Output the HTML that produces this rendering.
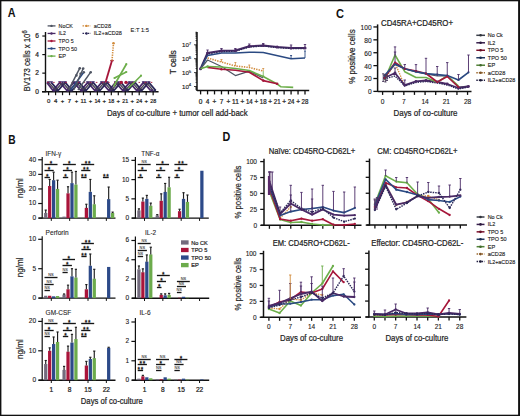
<!DOCTYPE html>
<html><head><meta charset="utf-8"><title>figure</title>
<style>
html,body{margin:0;padding:0;background:#fff;}
body{width:520px;height:416px;overflow:hidden;font-family:"Liberation Sans", sans-serif;}
svg{display:block;}
</style></head><body>
<svg width="520" height="416" viewBox="0 0 520 416" font-family='"Liberation Sans", sans-serif'>
<rect x="0.00" y="0.00" width="520.00" height="416.00" fill="#ffffff"/>
<rect x="0.00" y="0.00" width="520.00" height="1.30" fill="#111"/>
<rect x="0.00" y="0.00" width="1.40" height="416.00" fill="#111"/>
<rect x="518.10" y="0.00" width="1.90" height="416.00" fill="#111"/>
<rect x="0.00" y="414.70" width="520.00" height="1.30" fill="#111"/>
<text x="7.70" y="16.81" font-size="12.20" text-anchor="start" fill="#111" font-weight="bold" textLength="7.80" lengthAdjust="spacingAndGlyphs">A</text>
<text x="335.90" y="17.81" font-size="12.20" text-anchor="start" fill="#111" font-weight="bold" textLength="8.00" lengthAdjust="spacingAndGlyphs">C</text>
<text x="8.20" y="144.11" font-size="12.20" text-anchor="start" fill="#111" font-weight="bold" textLength="7.40" lengthAdjust="spacingAndGlyphs">B</text>
<text x="222.40" y="141.31" font-size="12.20" text-anchor="start" fill="#111" font-weight="bold" textLength="7.80" lengthAdjust="spacingAndGlyphs">D</text>
<line x1="45.50" y1="32.00" x2="45.50" y2="92.20" stroke="#111" stroke-width="1.40" stroke-linecap="butt"/>
<line x1="42.00" y1="91.70" x2="158.60" y2="91.70" stroke="#111" stroke-width="1.40" stroke-linecap="butt"/>
<line x1="42.30" y1="91.70" x2="45.50" y2="91.70" stroke="#111" stroke-width="1.20" stroke-linecap="butt"/>
<text x="37.20" y="93.98" font-size="6.60" text-anchor="middle" fill="#222" font-weight="normal" stroke="#222" stroke-width="0.22">0</text>
<line x1="42.30" y1="73.14" x2="45.50" y2="73.14" stroke="#111" stroke-width="1.20" stroke-linecap="butt"/>
<text x="37.20" y="75.42" font-size="6.60" text-anchor="middle" fill="#222" font-weight="normal" stroke="#222" stroke-width="0.22">2</text>
<line x1="42.30" y1="54.58" x2="45.50" y2="54.58" stroke="#111" stroke-width="1.20" stroke-linecap="butt"/>
<text x="37.20" y="56.86" font-size="6.60" text-anchor="middle" fill="#222" font-weight="normal" stroke="#222" stroke-width="0.22">4</text>
<line x1="42.30" y1="36.02" x2="45.50" y2="36.02" stroke="#111" stroke-width="1.20" stroke-linecap="butt"/>
<text x="37.20" y="38.30" font-size="6.60" text-anchor="middle" fill="#222" font-weight="normal" stroke="#222" stroke-width="0.22">6</text>
<line x1="48.60" y1="91.70" x2="48.60" y2="95.20" stroke="#111" stroke-width="1.20" stroke-linecap="butt"/>
<text x="48.60" y="103.37" font-size="6.00" text-anchor="middle" fill="#222" font-weight="normal" stroke="#222" stroke-width="0.22">0</text>
<line x1="55.57" y1="91.70" x2="55.57" y2="95.20" stroke="#111" stroke-width="1.20" stroke-linecap="butt"/>
<text x="55.57" y="103.37" font-size="6.00" text-anchor="middle" fill="#222" font-weight="normal" stroke="#222" stroke-width="0.22">4</text>
<line x1="62.54" y1="91.70" x2="62.54" y2="95.20" stroke="#111" stroke-width="1.20" stroke-linecap="butt"/>
<text x="62.54" y="103.37" font-size="6.00" text-anchor="middle" fill="#222" font-weight="normal" stroke="#222" stroke-width="0.22">+</text>
<line x1="69.51" y1="91.70" x2="69.51" y2="95.20" stroke="#111" stroke-width="1.20" stroke-linecap="butt"/>
<text x="69.51" y="103.37" font-size="6.00" text-anchor="middle" fill="#222" font-weight="normal" stroke="#222" stroke-width="0.22">7</text>
<line x1="76.48" y1="91.70" x2="76.48" y2="95.20" stroke="#111" stroke-width="1.20" stroke-linecap="butt"/>
<text x="76.48" y="103.37" font-size="6.00" text-anchor="middle" fill="#222" font-weight="normal" stroke="#222" stroke-width="0.22">+</text>
<line x1="83.45" y1="91.70" x2="83.45" y2="95.20" stroke="#111" stroke-width="1.20" stroke-linecap="butt"/>
<text x="83.45" y="103.37" font-size="6.00" text-anchor="middle" fill="#222" font-weight="normal" textLength="6.00" lengthAdjust="spacingAndGlyphs" stroke="#222" stroke-width="0.22">11</text>
<line x1="90.42" y1="91.70" x2="90.42" y2="95.20" stroke="#111" stroke-width="1.20" stroke-linecap="butt"/>
<text x="90.42" y="103.37" font-size="6.00" text-anchor="middle" fill="#222" font-weight="normal" stroke="#222" stroke-width="0.22">+</text>
<line x1="97.39" y1="91.70" x2="97.39" y2="95.20" stroke="#111" stroke-width="1.20" stroke-linecap="butt"/>
<text x="97.39" y="103.37" font-size="6.00" text-anchor="middle" fill="#222" font-weight="normal" textLength="6.00" lengthAdjust="spacingAndGlyphs" stroke="#222" stroke-width="0.22">14</text>
<line x1="104.36" y1="91.70" x2="104.36" y2="95.20" stroke="#111" stroke-width="1.20" stroke-linecap="butt"/>
<text x="104.36" y="103.37" font-size="6.00" text-anchor="middle" fill="#222" font-weight="normal" stroke="#222" stroke-width="0.22">+</text>
<line x1="111.33" y1="91.70" x2="111.33" y2="95.20" stroke="#111" stroke-width="1.20" stroke-linecap="butt"/>
<text x="111.33" y="103.37" font-size="6.00" text-anchor="middle" fill="#222" font-weight="normal" textLength="6.00" lengthAdjust="spacingAndGlyphs" stroke="#222" stroke-width="0.22">18</text>
<line x1="118.30" y1="91.70" x2="118.30" y2="95.20" stroke="#111" stroke-width="1.20" stroke-linecap="butt"/>
<text x="118.30" y="103.37" font-size="6.00" text-anchor="middle" fill="#222" font-weight="normal" stroke="#222" stroke-width="0.22">+</text>
<line x1="125.27" y1="91.70" x2="125.27" y2="95.20" stroke="#111" stroke-width="1.20" stroke-linecap="butt"/>
<text x="125.27" y="103.37" font-size="6.00" text-anchor="middle" fill="#222" font-weight="normal" textLength="6.00" lengthAdjust="spacingAndGlyphs" stroke="#222" stroke-width="0.22">21</text>
<line x1="132.24" y1="91.70" x2="132.24" y2="95.20" stroke="#111" stroke-width="1.20" stroke-linecap="butt"/>
<text x="132.24" y="103.37" font-size="6.00" text-anchor="middle" fill="#222" font-weight="normal" stroke="#222" stroke-width="0.22">+</text>
<line x1="139.21" y1="91.70" x2="139.21" y2="95.20" stroke="#111" stroke-width="1.20" stroke-linecap="butt"/>
<text x="139.21" y="103.37" font-size="6.00" text-anchor="middle" fill="#222" font-weight="normal" textLength="6.00" lengthAdjust="spacingAndGlyphs" stroke="#222" stroke-width="0.22">24</text>
<line x1="146.18" y1="91.70" x2="146.18" y2="95.20" stroke="#111" stroke-width="1.20" stroke-linecap="butt"/>
<text x="146.18" y="103.37" font-size="6.00" text-anchor="middle" fill="#222" font-weight="normal" stroke="#222" stroke-width="0.22">+</text>
<line x1="153.15" y1="91.70" x2="153.15" y2="95.20" stroke="#111" stroke-width="1.20" stroke-linecap="butt"/>
<text x="153.15" y="103.37" font-size="6.00" text-anchor="middle" fill="#222" font-weight="normal" textLength="6.00" lengthAdjust="spacingAndGlyphs" stroke="#222" stroke-width="0.22">28</text>
<text x="106.90" y="115.88" font-size="9.50" text-anchor="start" fill="#222" font-weight="normal" textLength="140.80" lengthAdjust="spacingAndGlyphs" stroke="#222" stroke-width="0.22">Days of co-culture + tumor cell add-back</text>
<text x="0" y="0" font-size="8.8" fill="#222" stroke="#222" stroke-width="0.2" text-anchor="middle" transform="translate(30.2 61.0) rotate(-90)" textLength="61.2" lengthAdjust="spacingAndGlyphs">BV173 cells x 10<tspan font-size="6.4" dy="-3.0">6</tspan></text>
<polyline points="46.90,82.42 52.97,90.50 59.94,82.42 66.91,90.50 73.88,82.42 80.85,90.50 87.82,82.42 94.79,90.50 101.76,82.42 108.73,90.50 115.70,82.42 122.67,90.50 129.64,82.42 136.61,90.50 143.58,82.42 150.55,90.50" fill="none" stroke="#4a2a6a" stroke-width="1.83" stroke-linejoin="round"/>
<polyline points="51.20,82.42 58.17,90.50 65.14,82.42 72.11,90.50 79.08,82.42 86.05,90.50 93.02,82.42 99.99,90.50 106.96,82.42 113.93,90.50 120.90,82.42 127.87,90.50 134.84,82.42 141.81,90.50 148.78,82.42 155.75,90.50" fill="none" stroke="#2c2858" stroke-width="1.83" stroke-linejoin="round"/>
<polyline points="48.60,82.42 55.57,90.50 62.54,82.42 69.51,90.50 76.48,82.42 83.45,90.50 90.42,82.42 97.39,90.50 104.36,82.42 111.33,90.50 118.30,82.42 125.27,90.50 132.24,82.42 139.21,90.50 146.18,82.42 153.15,90.50" fill="none" stroke="#4a4652" stroke-width="1.34" stroke-linejoin="round"/>
<path d="M46.90 81.22 L50.30 81.22 L48.60 84.02 Z" fill="#43296a"/>
<path d="M49.70 81.22 L53.10 81.22 L51.40 84.02 Z" fill="#43296a"/>
<circle cx="54.07" cy="90.50" r="1.30" fill="#43296a"/>
<circle cx="57.07" cy="90.50" r="1.30" fill="#2c2858"/>
<path d="M58.04 81.22 L61.44 81.22 L59.74 84.02 Z" fill="#43296a"/>
<path d="M60.84 81.22 L64.24 81.22 L62.54 84.02 Z" fill="#43296a"/>
<path d="M63.64 81.22 L67.04 81.22 L65.34 84.02 Z" fill="#43296a"/>
<circle cx="68.01" cy="90.50" r="1.30" fill="#43296a"/>
<circle cx="71.01" cy="90.50" r="1.30" fill="#2c2858"/>
<path d="M71.98 81.22 L75.38 81.22 L73.68 84.02 Z" fill="#43296a"/>
<path d="M74.78 81.22 L78.18 81.22 L76.48 84.02 Z" fill="#43296a"/>
<path d="M77.58 81.22 L80.98 81.22 L79.28 84.02 Z" fill="#43296a"/>
<circle cx="81.95" cy="90.50" r="1.30" fill="#43296a"/>
<circle cx="84.95" cy="90.50" r="1.30" fill="#2c2858"/>
<path d="M85.92 81.22 L89.32 81.22 L87.62 84.02 Z" fill="#43296a"/>
<path d="M88.72 81.22 L92.12 81.22 L90.42 84.02 Z" fill="#43296a"/>
<path d="M91.52 81.22 L94.92 81.22 L93.22 84.02 Z" fill="#43296a"/>
<circle cx="95.89" cy="90.50" r="1.30" fill="#43296a"/>
<circle cx="98.89" cy="90.50" r="1.30" fill="#2c2858"/>
<path d="M99.86 81.22 L103.26 81.22 L101.56 84.02 Z" fill="#43296a"/>
<path d="M102.66 81.22 L106.06 81.22 L104.36 84.02 Z" fill="#43296a"/>
<path d="M105.46 81.22 L108.86 81.22 L107.16 84.02 Z" fill="#43296a"/>
<circle cx="109.83" cy="90.50" r="1.30" fill="#43296a"/>
<circle cx="112.83" cy="90.50" r="1.30" fill="#2c2858"/>
<path d="M113.80 81.22 L117.20 81.22 L115.50 84.02 Z" fill="#43296a"/>
<path d="M116.60 81.22 L120.00 81.22 L118.30 84.02 Z" fill="#43296a"/>
<path d="M119.40 81.22 L122.80 81.22 L121.10 84.02 Z" fill="#43296a"/>
<circle cx="123.77" cy="90.50" r="1.30" fill="#43296a"/>
<circle cx="126.77" cy="90.50" r="1.30" fill="#2c2858"/>
<path d="M127.74 81.22 L131.14 81.22 L129.44 84.02 Z" fill="#43296a"/>
<path d="M130.54 81.22 L133.94 81.22 L132.24 84.02 Z" fill="#43296a"/>
<path d="M133.34 81.22 L136.74 81.22 L135.04 84.02 Z" fill="#43296a"/>
<circle cx="137.71" cy="90.50" r="1.30" fill="#43296a"/>
<circle cx="140.71" cy="90.50" r="1.30" fill="#2c2858"/>
<path d="M141.68 81.22 L145.08 81.22 L143.38 84.02 Z" fill="#43296a"/>
<path d="M144.48 81.22 L147.88 81.22 L146.18 84.02 Z" fill="#43296a"/>
<path d="M147.28 81.22 L150.68 81.22 L148.98 84.02 Z" fill="#43296a"/>
<circle cx="151.65" cy="90.50" r="1.30" fill="#43296a"/>
<circle cx="154.65" cy="90.50" r="1.30" fill="#2c2858"/>
<line x1="47.00" y1="82.42" x2="153.15" y2="82.42" stroke="#a6163a" stroke-width="0.90" stroke-linecap="butt" stroke-dasharray="1.6,4.5"/>
<polyline points="68.50,90.20 79.80,68.20" fill="none" stroke="#4f5563" stroke-width="1.46" stroke-linejoin="round"/>
<polyline points="70.60,90.00 83.80,72.20" fill="none" stroke="#2b4a82" stroke-width="1.46" stroke-linejoin="round"/>
<polyline points="73.70,90.00 83.20,68.50" fill="none" stroke="#4f5563" stroke-width="1.46" stroke-linejoin="round"/>
<polyline points="78.00,90.00 90.70,72.20" fill="none" stroke="#4f5563" stroke-width="1.46" stroke-linejoin="round"/>
<circle cx="79.80" cy="68.20" r="1.30" fill="#4f5563"/>
<circle cx="83.20" cy="68.50" r="1.30" fill="#4f5563"/>
<circle cx="83.80" cy="72.20" r="1.30" fill="#4f5563"/>
<circle cx="90.70" cy="72.20" r="1.30" fill="#4f5563"/>
<circle cx="76.40" cy="75.40" r="1.30" fill="#4f5563"/>
<circle cx="80.60" cy="73.80" r="1.30" fill="#4f5563"/>
<polyline points="105.50,82.42 112.00,60.60" fill="none" stroke="#a6163a" stroke-width="1.83" stroke-linejoin="round"/>
<line x1="110.30" y1="60.60" x2="113.70" y2="60.60" stroke="#a6163a" stroke-width="1.30" stroke-linecap="butt"/>
<polyline points="112.00,60.60 113.50,43.20" fill="none" stroke="#d18b3c" stroke-width="1.59" stroke-linejoin="round" stroke-dasharray="1.3,1.1"/>
<circle cx="113.50" cy="43.20" r="1.30" fill="#d18b3c"/>
<polyline points="113.50,86.50 126.30,64.20" fill="none" stroke="#6cae4a" stroke-width="1.71" stroke-linejoin="round"/>
<polyline points="114.50,78.00 126.30,72.00" fill="none" stroke="#6cae4a" stroke-width="1.59" stroke-linejoin="round"/>
<circle cx="126.30" cy="72.00" r="1.10" fill="#6cae4a"/>
<circle cx="126.30" cy="64.20" r="1.10" fill="#6cae4a"/>
<polyline points="128.50,88.00 141.00,75.70" fill="none" stroke="#6cae4a" stroke-width="1.59" stroke-linejoin="round"/>
<circle cx="141.00" cy="75.70" r="1.10" fill="#6cae4a"/>
<circle cx="114.50" cy="78.00" r="1.10" fill="#6cae4a"/>
<circle cx="121.20" cy="82.42" r="1.70" fill="#a6163a"/>
<circle cx="126.00" cy="82.42" r="1.70" fill="#a6163a"/>
<line x1="47.60" y1="25.90" x2="55.50" y2="25.90" stroke="#4f5563" stroke-width="1.30" stroke-linecap="butt"/>
<circle cx="51.50" cy="25.90" r="1.20" fill="#4f5563"/>
<text x="58.60" y="27.90" font-size="5.80" text-anchor="start" fill="#222" font-weight="normal" textLength="14.30" lengthAdjust="spacingAndGlyphs" stroke="#222" stroke-width="0.12">NoCK</text>
<line x1="47.60" y1="33.45" x2="55.50" y2="33.45" stroke="#4a2a66" stroke-width="1.30" stroke-linecap="butt"/>
<circle cx="51.50" cy="33.45" r="1.20" fill="#4a2a66"/>
<text x="58.60" y="35.45" font-size="5.80" text-anchor="start" fill="#222" font-weight="normal" textLength="7.20" lengthAdjust="spacingAndGlyphs" stroke="#222" stroke-width="0.12">IL2</text>
<line x1="47.60" y1="41.00" x2="55.50" y2="41.00" stroke="#a6163a" stroke-width="1.30" stroke-linecap="butt"/>
<circle cx="51.50" cy="41.00" r="1.20" fill="#a6163a"/>
<text x="58.60" y="43.00" font-size="5.80" text-anchor="start" fill="#222" font-weight="normal" textLength="15.00" lengthAdjust="spacingAndGlyphs" stroke="#222" stroke-width="0.12">TPO 5</text>
<line x1="47.60" y1="48.55" x2="55.50" y2="48.55" stroke="#2b4a82" stroke-width="1.30" stroke-linecap="butt"/>
<circle cx="51.50" cy="48.55" r="1.20" fill="#2b4a82"/>
<text x="58.60" y="50.55" font-size="5.80" text-anchor="start" fill="#222" font-weight="normal" textLength="18.50" lengthAdjust="spacingAndGlyphs" stroke="#222" stroke-width="0.12">TPO 50</text>
<line x1="47.60" y1="56.10" x2="55.50" y2="56.10" stroke="#6cae4a" stroke-width="1.30" stroke-linecap="butt"/>
<circle cx="51.50" cy="56.10" r="1.20" fill="#6cae4a"/>
<text x="58.60" y="58.10" font-size="5.80" text-anchor="start" fill="#222" font-weight="normal" textLength="7.50" lengthAdjust="spacingAndGlyphs" stroke="#222" stroke-width="0.12">EP</text>
<line x1="82.50" y1="25.90" x2="90.60" y2="25.90" stroke="#d18b3c" stroke-width="1.30" stroke-linecap="butt" stroke-dasharray="1.6,1.0"/>
<circle cx="86.50" cy="25.90" r="1.20" fill="#d18b3c"/>
<text x="93.70" y="27.90" font-size="5.80" text-anchor="start" fill="#222" font-weight="normal" textLength="17.30" lengthAdjust="spacingAndGlyphs" stroke="#222" stroke-width="0.12">aCD28</text>
<line x1="82.50" y1="33.45" x2="90.60" y2="33.45" stroke="#2c2858" stroke-width="1.30" stroke-linecap="butt" stroke-dasharray="1.6,1.0"/>
<circle cx="86.50" cy="33.45" r="1.20" fill="#2c2858"/>
<text x="93.70" y="35.45" font-size="5.80" text-anchor="start" fill="#222" font-weight="normal" textLength="28.20" lengthAdjust="spacingAndGlyphs" stroke="#222" stroke-width="0.12">IL2+aCD28</text>
<text x="130.60" y="31.84" font-size="5.90" text-anchor="start" fill="#222" font-weight="normal" textLength="18.20" lengthAdjust="spacingAndGlyphs" stroke="#222" stroke-width="0.12">E:T 1:5</text>
<line x1="197.00" y1="32.00" x2="197.00" y2="91.10" stroke="#111" stroke-width="1.50" stroke-linecap="butt"/>
<line x1="197.00" y1="90.60" x2="309.20" y2="90.60" stroke="#111" stroke-width="1.50" stroke-linecap="butt"/>
<line x1="195.50" y1="89.58" x2="197.00" y2="89.58" stroke="#111" stroke-width="0.80" stroke-linecap="butt"/>
<line x1="195.50" y1="88.65" x2="197.00" y2="88.65" stroke="#111" stroke-width="0.80" stroke-linecap="butt"/>
<line x1="195.50" y1="87.85" x2="197.00" y2="87.85" stroke="#111" stroke-width="0.80" stroke-linecap="butt"/>
<line x1="195.50" y1="87.14" x2="197.00" y2="87.14" stroke="#111" stroke-width="0.80" stroke-linecap="butt"/>
<line x1="194.00" y1="86.50" x2="197.00" y2="86.50" stroke="#111" stroke-width="0.80" stroke-linecap="butt"/>
<line x1="195.50" y1="82.32" x2="197.00" y2="82.32" stroke="#111" stroke-width="0.80" stroke-linecap="butt"/>
<line x1="195.50" y1="79.87" x2="197.00" y2="79.87" stroke="#111" stroke-width="0.80" stroke-linecap="butt"/>
<line x1="195.50" y1="78.13" x2="197.00" y2="78.13" stroke="#111" stroke-width="0.80" stroke-linecap="butt"/>
<line x1="195.50" y1="76.78" x2="197.00" y2="76.78" stroke="#111" stroke-width="0.80" stroke-linecap="butt"/>
<line x1="195.50" y1="75.68" x2="197.00" y2="75.68" stroke="#111" stroke-width="0.80" stroke-linecap="butt"/>
<line x1="195.50" y1="74.75" x2="197.00" y2="74.75" stroke="#111" stroke-width="0.80" stroke-linecap="butt"/>
<line x1="195.50" y1="73.95" x2="197.00" y2="73.95" stroke="#111" stroke-width="0.80" stroke-linecap="butt"/>
<line x1="195.50" y1="73.24" x2="197.00" y2="73.24" stroke="#111" stroke-width="0.80" stroke-linecap="butt"/>
<line x1="194.00" y1="72.60" x2="197.00" y2="72.60" stroke="#111" stroke-width="0.80" stroke-linecap="butt"/>
<line x1="195.50" y1="68.42" x2="197.00" y2="68.42" stroke="#111" stroke-width="0.80" stroke-linecap="butt"/>
<line x1="195.50" y1="65.97" x2="197.00" y2="65.97" stroke="#111" stroke-width="0.80" stroke-linecap="butt"/>
<line x1="195.50" y1="64.23" x2="197.00" y2="64.23" stroke="#111" stroke-width="0.80" stroke-linecap="butt"/>
<line x1="195.50" y1="62.88" x2="197.00" y2="62.88" stroke="#111" stroke-width="0.80" stroke-linecap="butt"/>
<line x1="195.50" y1="61.78" x2="197.00" y2="61.78" stroke="#111" stroke-width="0.80" stroke-linecap="butt"/>
<line x1="195.50" y1="60.85" x2="197.00" y2="60.85" stroke="#111" stroke-width="0.80" stroke-linecap="butt"/>
<line x1="195.50" y1="60.05" x2="197.00" y2="60.05" stroke="#111" stroke-width="0.80" stroke-linecap="butt"/>
<line x1="195.50" y1="59.34" x2="197.00" y2="59.34" stroke="#111" stroke-width="0.80" stroke-linecap="butt"/>
<line x1="194.00" y1="58.70" x2="197.00" y2="58.70" stroke="#111" stroke-width="0.80" stroke-linecap="butt"/>
<line x1="195.50" y1="54.52" x2="197.00" y2="54.52" stroke="#111" stroke-width="0.80" stroke-linecap="butt"/>
<line x1="195.50" y1="52.07" x2="197.00" y2="52.07" stroke="#111" stroke-width="0.80" stroke-linecap="butt"/>
<line x1="195.50" y1="50.33" x2="197.00" y2="50.33" stroke="#111" stroke-width="0.80" stroke-linecap="butt"/>
<line x1="195.50" y1="48.98" x2="197.00" y2="48.98" stroke="#111" stroke-width="0.80" stroke-linecap="butt"/>
<line x1="195.50" y1="47.88" x2="197.00" y2="47.88" stroke="#111" stroke-width="0.80" stroke-linecap="butt"/>
<line x1="195.50" y1="46.95" x2="197.00" y2="46.95" stroke="#111" stroke-width="0.80" stroke-linecap="butt"/>
<line x1="195.50" y1="46.15" x2="197.00" y2="46.15" stroke="#111" stroke-width="0.80" stroke-linecap="butt"/>
<line x1="195.50" y1="45.44" x2="197.00" y2="45.44" stroke="#111" stroke-width="0.80" stroke-linecap="butt"/>
<line x1="194.00" y1="44.80" x2="197.00" y2="44.80" stroke="#111" stroke-width="0.80" stroke-linecap="butt"/>
<line x1="195.50" y1="40.62" x2="197.00" y2="40.62" stroke="#111" stroke-width="0.80" stroke-linecap="butt"/>
<line x1="195.50" y1="38.17" x2="197.00" y2="38.17" stroke="#111" stroke-width="0.80" stroke-linecap="butt"/>
<line x1="195.50" y1="36.43" x2="197.00" y2="36.43" stroke="#111" stroke-width="0.80" stroke-linecap="butt"/>
<line x1="195.50" y1="35.08" x2="197.00" y2="35.08" stroke="#111" stroke-width="0.80" stroke-linecap="butt"/>
<line x1="195.50" y1="33.98" x2="197.00" y2="33.98" stroke="#111" stroke-width="0.80" stroke-linecap="butt"/>
<line x1="195.50" y1="33.05" x2="197.00" y2="33.05" stroke="#111" stroke-width="0.80" stroke-linecap="butt"/>
<line x1="195.50" y1="32.25" x2="197.00" y2="32.25" stroke="#111" stroke-width="0.80" stroke-linecap="butt"/>
<text x="186.6" y="89.00" font-size="6.2" text-anchor="middle" fill="#222" stroke="#222" stroke-width="0.15">10<tspan font-size="4.3" dy="-2.6">4</tspan></text>
<text x="186.6" y="75.10" font-size="6.2" text-anchor="middle" fill="#222" stroke="#222" stroke-width="0.15">10<tspan font-size="4.3" dy="-2.6">5</tspan></text>
<text x="186.6" y="61.20" font-size="6.2" text-anchor="middle" fill="#222" stroke="#222" stroke-width="0.15">10<tspan font-size="4.3" dy="-2.6">6</tspan></text>
<text x="186.6" y="47.30" font-size="6.2" text-anchor="middle" fill="#222" stroke="#222" stroke-width="0.15">10<tspan font-size="4.3" dy="-2.6">7</tspan></text>
<line x1="200.60" y1="90.60" x2="200.60" y2="94.40" stroke="#111" stroke-width="1.30" stroke-linecap="butt"/>
<text x="200.60" y="103.74" font-size="6.50" text-anchor="middle" fill="#222" font-weight="normal" stroke="#222" stroke-width="0.22">0</text>
<line x1="207.56" y1="90.60" x2="207.56" y2="94.40" stroke="#111" stroke-width="1.30" stroke-linecap="butt"/>
<text x="207.56" y="103.74" font-size="6.50" text-anchor="middle" fill="#222" font-weight="normal" stroke="#222" stroke-width="0.22">4</text>
<line x1="214.52" y1="90.60" x2="214.52" y2="94.40" stroke="#111" stroke-width="1.30" stroke-linecap="butt"/>
<text x="214.52" y="103.74" font-size="6.50" text-anchor="middle" fill="#222" font-weight="normal" stroke="#222" stroke-width="0.22">+</text>
<line x1="221.48" y1="90.60" x2="221.48" y2="94.40" stroke="#111" stroke-width="1.30" stroke-linecap="butt"/>
<text x="221.48" y="103.74" font-size="6.50" text-anchor="middle" fill="#222" font-weight="normal" stroke="#222" stroke-width="0.22">7</text>
<line x1="228.44" y1="90.60" x2="228.44" y2="94.40" stroke="#111" stroke-width="1.30" stroke-linecap="butt"/>
<text x="228.44" y="103.74" font-size="6.50" text-anchor="middle" fill="#222" font-weight="normal" stroke="#222" stroke-width="0.22">+</text>
<line x1="235.40" y1="90.60" x2="235.40" y2="94.40" stroke="#111" stroke-width="1.30" stroke-linecap="butt"/>
<text x="235.40" y="103.74" font-size="6.50" text-anchor="middle" fill="#222" font-weight="normal" textLength="6.80" lengthAdjust="spacingAndGlyphs" stroke="#222" stroke-width="0.22">11</text>
<line x1="242.36" y1="90.60" x2="242.36" y2="94.40" stroke="#111" stroke-width="1.30" stroke-linecap="butt"/>
<text x="242.36" y="103.74" font-size="6.50" text-anchor="middle" fill="#222" font-weight="normal" stroke="#222" stroke-width="0.22">+</text>
<line x1="249.32" y1="90.60" x2="249.32" y2="94.40" stroke="#111" stroke-width="1.30" stroke-linecap="butt"/>
<text x="249.32" y="103.74" font-size="6.50" text-anchor="middle" fill="#222" font-weight="normal" textLength="6.80" lengthAdjust="spacingAndGlyphs" stroke="#222" stroke-width="0.22">14</text>
<line x1="256.28" y1="90.60" x2="256.28" y2="94.40" stroke="#111" stroke-width="1.30" stroke-linecap="butt"/>
<text x="256.28" y="103.74" font-size="6.50" text-anchor="middle" fill="#222" font-weight="normal" stroke="#222" stroke-width="0.22">+</text>
<line x1="263.24" y1="90.60" x2="263.24" y2="94.40" stroke="#111" stroke-width="1.30" stroke-linecap="butt"/>
<text x="263.24" y="103.74" font-size="6.50" text-anchor="middle" fill="#222" font-weight="normal" textLength="6.80" lengthAdjust="spacingAndGlyphs" stroke="#222" stroke-width="0.22">18</text>
<line x1="270.20" y1="90.60" x2="270.20" y2="94.40" stroke="#111" stroke-width="1.30" stroke-linecap="butt"/>
<text x="270.20" y="103.74" font-size="6.50" text-anchor="middle" fill="#222" font-weight="normal" stroke="#222" stroke-width="0.22">+</text>
<line x1="277.16" y1="90.60" x2="277.16" y2="94.40" stroke="#111" stroke-width="1.30" stroke-linecap="butt"/>
<text x="277.16" y="103.74" font-size="6.50" text-anchor="middle" fill="#222" font-weight="normal" textLength="6.80" lengthAdjust="spacingAndGlyphs" stroke="#222" stroke-width="0.22">21</text>
<line x1="284.12" y1="90.60" x2="284.12" y2="94.40" stroke="#111" stroke-width="1.30" stroke-linecap="butt"/>
<text x="284.12" y="103.74" font-size="6.50" text-anchor="middle" fill="#222" font-weight="normal" stroke="#222" stroke-width="0.22">+</text>
<line x1="291.08" y1="90.60" x2="291.08" y2="94.40" stroke="#111" stroke-width="1.30" stroke-linecap="butt"/>
<text x="291.08" y="103.74" font-size="6.50" text-anchor="middle" fill="#222" font-weight="normal" textLength="6.80" lengthAdjust="spacingAndGlyphs" stroke="#222" stroke-width="0.22">24</text>
<line x1="298.04" y1="90.60" x2="298.04" y2="94.40" stroke="#111" stroke-width="1.30" stroke-linecap="butt"/>
<text x="298.04" y="103.74" font-size="6.50" text-anchor="middle" fill="#222" font-weight="normal" stroke="#222" stroke-width="0.22">+</text>
<line x1="305.00" y1="90.60" x2="305.00" y2="94.40" stroke="#111" stroke-width="1.30" stroke-linecap="butt"/>
<text x="305.00" y="103.74" font-size="6.50" text-anchor="middle" fill="#222" font-weight="normal" textLength="6.80" lengthAdjust="spacingAndGlyphs" stroke="#222" stroke-width="0.22">28</text>
<text x="0" y="0" font-size="9.6" fill="#222" stroke="#222" stroke-width="0.2" text-anchor="middle" transform="translate(176.3 62.2) rotate(-90)" textLength="24" lengthAdjust="spacingAndGlyphs">T cells</text>
<polyline points="200.60,68.75 207.56,53.00 221.48,50.80 235.40,50.60 249.32,46.30 263.24,45.50 277.16,47.00 291.08,48.00 305.00,48.00" fill="none" stroke="#4a2a66" stroke-width="2.07" stroke-linejoin="round"/>
<polyline points="200.60,68.75 207.56,54.00 221.48,51.50 235.40,51.20 249.32,47.00 263.24,46.00 277.16,47.50 291.08,48.50 305.00,48.50" fill="none" stroke="#2c2858" stroke-width="1.46" stroke-linejoin="round" stroke-dasharray="1.5,1"/>
<polyline points="200.60,68.75 207.56,55.50 221.48,53.00 235.40,53.00 249.32,52.20 263.24,52.50 291.08,58.70 305.00,58.00" fill="none" stroke="#2b4a82" stroke-width="1.46" stroke-linejoin="round"/>
<circle cx="200.60" cy="68.75" r="1.60" fill="#4a2a66"/>
<circle cx="207.56" cy="53.00" r="1.60" fill="#4a2a66"/>
<circle cx="221.48" cy="50.80" r="1.60" fill="#4a2a66"/>
<circle cx="235.40" cy="50.60" r="1.60" fill="#4a2a66"/>
<circle cx="249.32" cy="46.30" r="1.60" fill="#4a2a66"/>
<circle cx="263.24" cy="45.50" r="1.60" fill="#4a2a66"/>
<circle cx="277.16" cy="47.00" r="1.60" fill="#4a2a66"/>
<circle cx="291.08" cy="48.00" r="1.60" fill="#4a2a66"/>
<circle cx="305.00" cy="48.00" r="1.60" fill="#4a2a66"/>
<line x1="207.56" y1="53.00" x2="207.56" y2="50.00" stroke="#4a2a66" stroke-width="0.90" stroke-linecap="butt"/>
<line x1="206.36" y1="50.00" x2="208.76" y2="50.00" stroke="#4a2a66" stroke-width="0.90" stroke-linecap="butt"/>
<line x1="221.48" y1="50.80" x2="221.48" y2="48.50" stroke="#4a2a66" stroke-width="0.90" stroke-linecap="butt"/>
<line x1="220.28" y1="48.50" x2="222.68" y2="48.50" stroke="#4a2a66" stroke-width="0.90" stroke-linecap="butt"/>
<line x1="235.40" y1="50.60" x2="235.40" y2="48.50" stroke="#4a2a66" stroke-width="0.90" stroke-linecap="butt"/>
<line x1="234.20" y1="48.50" x2="236.60" y2="48.50" stroke="#4a2a66" stroke-width="0.90" stroke-linecap="butt"/>
<line x1="249.32" y1="46.30" x2="249.32" y2="44.00" stroke="#4a2a66" stroke-width="0.90" stroke-linecap="butt"/>
<line x1="248.12" y1="44.00" x2="250.52" y2="44.00" stroke="#4a2a66" stroke-width="0.90" stroke-linecap="butt"/>
<line x1="263.24" y1="45.50" x2="263.24" y2="43.50" stroke="#4a2a66" stroke-width="0.90" stroke-linecap="butt"/>
<line x1="262.04" y1="43.50" x2="264.44" y2="43.50" stroke="#4a2a66" stroke-width="0.90" stroke-linecap="butt"/>
<line x1="291.08" y1="48.00" x2="291.08" y2="45.00" stroke="#4a2a66" stroke-width="0.90" stroke-linecap="butt"/>
<line x1="289.88" y1="45.00" x2="292.28" y2="45.00" stroke="#4a2a66" stroke-width="0.90" stroke-linecap="butt"/>
<line x1="305.00" y1="48.00" x2="305.00" y2="44.50" stroke="#4a2a66" stroke-width="0.90" stroke-linecap="butt"/>
<line x1="303.80" y1="44.50" x2="306.20" y2="44.50" stroke="#4a2a66" stroke-width="0.90" stroke-linecap="butt"/>
<line x1="291.08" y1="58.70" x2="291.08" y2="55.50" stroke="#2b4a82" stroke-width="0.90" stroke-linecap="butt"/>
<line x1="290.08" y1="55.50" x2="292.08" y2="55.50" stroke="#2b4a82" stroke-width="0.90" stroke-linecap="butt"/>
<line x1="305.00" y1="58.00" x2="305.00" y2="51.00" stroke="#2b4a82" stroke-width="0.90" stroke-linecap="butt"/>
<line x1="304.00" y1="51.00" x2="306.00" y2="51.00" stroke="#2b4a82" stroke-width="0.90" stroke-linecap="butt"/>
<polyline points="200.60,68.75 207.56,60.00 221.48,66.50 235.40,75.60 249.32,71.20 263.24,78.00" fill="none" stroke="#4f5563" stroke-width="1.22" stroke-linejoin="round"/>
<polyline points="207.56,58.00 221.48,62.00 235.40,66.00 249.32,67.50 263.24,71.00" fill="none" stroke="#d18b3c" stroke-width="1.59" stroke-linejoin="round" stroke-dasharray="1.4,1.1"/>
<line x1="221.48" y1="62.00" x2="221.48" y2="59.50" stroke="#d18b3c" stroke-width="0.80" stroke-linecap="butt"/>
<line x1="220.48" y1="59.50" x2="222.48" y2="59.50" stroke="#d18b3c" stroke-width="0.80" stroke-linecap="butt"/>
<line x1="235.40" y1="66.00" x2="235.40" y2="62.50" stroke="#d18b3c" stroke-width="0.80" stroke-linecap="butt"/>
<line x1="234.40" y1="62.50" x2="236.40" y2="62.50" stroke="#d18b3c" stroke-width="0.80" stroke-linecap="butt"/>
<line x1="249.32" y1="67.50" x2="249.32" y2="65.00" stroke="#d18b3c" stroke-width="0.80" stroke-linecap="butt"/>
<line x1="248.32" y1="65.00" x2="250.32" y2="65.00" stroke="#d18b3c" stroke-width="0.80" stroke-linecap="butt"/>
<line x1="263.24" y1="71.00" x2="263.24" y2="68.50" stroke="#d18b3c" stroke-width="0.80" stroke-linecap="butt"/>
<line x1="262.24" y1="68.50" x2="264.24" y2="68.50" stroke="#d18b3c" stroke-width="0.80" stroke-linecap="butt"/>
<line x1="263.24" y1="71.00" x2="263.24" y2="76.00" stroke="#6cae4a" stroke-width="0.80" stroke-linecap="butt"/>
<line x1="262.24" y1="76.00" x2="264.24" y2="76.00" stroke="#6cae4a" stroke-width="0.80" stroke-linecap="butt"/>
<polyline points="200.60,68.75 207.56,66.60 221.48,67.00 235.40,68.50 249.32,70.50 263.24,76.50 277.16,84.00 281.00,86.80 293.20,87.40" fill="none" stroke="#6cae4a" stroke-width="1.59" stroke-linejoin="round"/>
<polyline points="207.56,67.50 221.48,69.20 235.40,70.20 249.32,72.20 263.24,80.60 277.16,83.70" fill="none" stroke="#a6163a" stroke-width="1.59" stroke-linejoin="round"/>
<circle cx="221.48" cy="69.20" r="1.30" fill="#a6163a"/>
<circle cx="263.24" cy="80.60" r="1.30" fill="#a6163a"/>
<circle cx="277.16" cy="83.70" r="1.30" fill="#a6163a"/>
<circle cx="207.56" cy="66.60" r="1.30" fill="#6cae4a"/>
<line x1="377.60" y1="24.40" x2="377.60" y2="91.90" stroke="#111" stroke-width="1.50" stroke-linecap="butt"/>
<line x1="377.60" y1="91.40" x2="471.50" y2="91.40" stroke="#111" stroke-width="1.50" stroke-linecap="butt"/>
<line x1="373.40" y1="91.40" x2="377.60" y2="91.40" stroke="#111" stroke-width="1.30" stroke-linecap="butt"/>
<text x="371.60" y="94.38" font-size="6.60" text-anchor="end" fill="#222" font-weight="normal" stroke="#222" stroke-width="0.12">0</text>
<line x1="373.40" y1="78.51" x2="377.60" y2="78.51" stroke="#111" stroke-width="1.30" stroke-linecap="butt"/>
<text x="371.60" y="81.49" font-size="6.60" text-anchor="end" fill="#222" font-weight="normal" stroke="#222" stroke-width="0.12">20</text>
<line x1="373.40" y1="65.62" x2="377.60" y2="65.62" stroke="#111" stroke-width="1.30" stroke-linecap="butt"/>
<text x="371.60" y="68.60" font-size="6.60" text-anchor="end" fill="#222" font-weight="normal" stroke="#222" stroke-width="0.12">40</text>
<line x1="373.40" y1="52.73" x2="377.60" y2="52.73" stroke="#111" stroke-width="1.30" stroke-linecap="butt"/>
<text x="371.60" y="55.71" font-size="6.60" text-anchor="end" fill="#222" font-weight="normal" stroke="#222" stroke-width="0.12">60</text>
<line x1="373.40" y1="39.84" x2="377.60" y2="39.84" stroke="#111" stroke-width="1.30" stroke-linecap="butt"/>
<text x="371.60" y="42.82" font-size="6.60" text-anchor="end" fill="#222" font-weight="normal" stroke="#222" stroke-width="0.12">80</text>
<line x1="373.40" y1="26.95" x2="377.60" y2="26.95" stroke="#111" stroke-width="1.30" stroke-linecap="butt"/>
<text x="371.60" y="29.93" font-size="6.60" text-anchor="end" fill="#222" font-weight="normal" stroke="#222" stroke-width="0.12">100</text>
<line x1="382.60" y1="91.40" x2="382.60" y2="94.90" stroke="#111" stroke-width="1.30" stroke-linecap="butt"/>
<line x1="393.22" y1="91.40" x2="393.22" y2="94.90" stroke="#111" stroke-width="1.30" stroke-linecap="butt"/>
<line x1="403.84" y1="91.40" x2="403.84" y2="94.90" stroke="#111" stroke-width="1.30" stroke-linecap="butt"/>
<line x1="414.46" y1="91.40" x2="414.46" y2="94.90" stroke="#111" stroke-width="1.30" stroke-linecap="butt"/>
<line x1="425.08" y1="91.40" x2="425.08" y2="94.90" stroke="#111" stroke-width="1.30" stroke-linecap="butt"/>
<line x1="435.70" y1="91.40" x2="435.70" y2="94.90" stroke="#111" stroke-width="1.30" stroke-linecap="butt"/>
<line x1="446.32" y1="91.40" x2="446.32" y2="94.90" stroke="#111" stroke-width="1.30" stroke-linecap="butt"/>
<line x1="456.94" y1="91.40" x2="456.94" y2="94.90" stroke="#111" stroke-width="1.30" stroke-linecap="butt"/>
<line x1="467.56" y1="91.40" x2="467.56" y2="94.90" stroke="#111" stroke-width="1.30" stroke-linecap="butt"/>
<text x="382.60" y="103.68" font-size="6.60" text-anchor="middle" fill="#222" font-weight="normal" stroke="#222" stroke-width="0.12">0</text>
<text x="403.84" y="103.68" font-size="6.60" text-anchor="middle" fill="#222" font-weight="normal" stroke="#222" stroke-width="0.12">7</text>
<text x="425.08" y="103.68" font-size="6.60" text-anchor="middle" fill="#222" font-weight="normal" stroke="#222" stroke-width="0.12">14</text>
<text x="446.32" y="103.68" font-size="6.60" text-anchor="middle" fill="#222" font-weight="normal" stroke="#222" stroke-width="0.12">21</text>
<text x="467.56" y="103.68" font-size="6.60" text-anchor="middle" fill="#222" font-weight="normal" stroke="#222" stroke-width="0.12">28</text>
<text x="393.50" y="115.61" font-size="9.60" text-anchor="start" fill="#222" font-weight="normal" textLength="64.00" lengthAdjust="spacingAndGlyphs" stroke="#222" stroke-width="0.22">Days of co-culture</text>
<text x="0" y="0" font-size="9.0" fill="#222" stroke="#222" stroke-width="0.2" text-anchor="middle" transform="translate(354.8 56.6) rotate(-90)" textLength="54.5" lengthAdjust="spacingAndGlyphs">% positive cells</text>
<text x="381.00" y="25.90" font-size="8.40" text-anchor="start" fill="#222" font-weight="normal" textLength="72.00" lengthAdjust="spacingAndGlyphs" stroke="#222" stroke-width="0.22">CD45RA+CD45RO+</text>
<polyline points="384.42,80.00 395.04,63.00 404.76,86.00" fill="none" stroke="#d18b3c" stroke-width="1.34" stroke-linejoin="round" stroke-dasharray="1.4,1"/>
<polyline points="384.42,77.00 395.04,64.40 404.76,69.00 415.99,72.00 426.00,74.00 437.23,76.00 447.25,76.00 458.48,87.00 468.49,86.00" fill="none" stroke="#4f5563" stroke-width="1.22" stroke-linejoin="round"/>
<polyline points="384.42,78.00 395.04,73.00 404.76,85.20 415.99,81.30 426.00,80.50 437.23,82.00 447.25,84.00 458.48,88.00 468.49,86.50" fill="none" stroke="#4a2a66" stroke-width="1.83" stroke-linejoin="round"/>
<polyline points="384.42,79.00 395.04,76.00 404.76,86.00 415.99,82.50 426.00,81.50 437.23,83.00 447.25,85.00 458.48,89.00 468.49,87.00" fill="none" stroke="#2c2858" stroke-width="1.34" stroke-linejoin="round" stroke-dasharray="1.4,1"/>
<polyline points="384.42,80.00 395.04,55.00 404.76,71.70 415.99,77.50 426.00,77.50 437.23,82.30 447.25,75.60 458.48,86.00" fill="none" stroke="#6cae4a" stroke-width="1.59" stroke-linejoin="round"/>
<polyline points="384.42,78.00 395.04,62.50 404.76,68.80 415.99,71.00 426.00,73.50 437.23,82.00 447.25,76.50 458.48,87.00" fill="none" stroke="#a6163a" stroke-width="1.59" stroke-linejoin="round"/>
<polyline points="384.42,75.60 395.04,64.00 404.76,68.80 415.99,71.70 426.00,73.60 437.23,74.60 447.25,75.60 458.48,80.00 468.49,72.30" fill="none" stroke="#2b4a82" stroke-width="1.59" stroke-linejoin="round"/>
<circle cx="384.42" cy="78.00" r="1.40" fill="#4a2a66"/>
<circle cx="384.42" cy="75.60" r="1.10" fill="#2b4a82"/>
<circle cx="395.04" cy="73.00" r="1.40" fill="#4a2a66"/>
<circle cx="395.04" cy="64.00" r="1.10" fill="#2b4a82"/>
<circle cx="404.76" cy="85.20" r="1.40" fill="#4a2a66"/>
<circle cx="404.76" cy="68.80" r="1.10" fill="#2b4a82"/>
<circle cx="415.99" cy="81.30" r="1.40" fill="#4a2a66"/>
<circle cx="415.99" cy="71.70" r="1.10" fill="#2b4a82"/>
<circle cx="426.00" cy="80.50" r="1.40" fill="#4a2a66"/>
<circle cx="426.00" cy="73.60" r="1.10" fill="#2b4a82"/>
<circle cx="437.23" cy="82.00" r="1.40" fill="#4a2a66"/>
<circle cx="437.23" cy="74.60" r="1.10" fill="#2b4a82"/>
<circle cx="447.25" cy="84.00" r="1.40" fill="#4a2a66"/>
<circle cx="447.25" cy="75.60" r="1.10" fill="#2b4a82"/>
<circle cx="458.48" cy="88.00" r="1.40" fill="#4a2a66"/>
<circle cx="458.48" cy="80.00" r="1.10" fill="#2b4a82"/>
<circle cx="468.49" cy="86.50" r="1.40" fill="#4a2a66"/>
<circle cx="468.49" cy="72.30" r="1.10" fill="#2b4a82"/>
<circle cx="384.42" cy="78.00" r="1.10" fill="#a6163a"/>
<circle cx="395.04" cy="62.50" r="1.10" fill="#a6163a"/>
<circle cx="404.76" cy="68.80" r="1.10" fill="#a6163a"/>
<circle cx="415.99" cy="71.00" r="1.10" fill="#a6163a"/>
<circle cx="426.00" cy="73.50" r="1.10" fill="#a6163a"/>
<circle cx="437.23" cy="82.00" r="1.10" fill="#a6163a"/>
<circle cx="447.25" cy="76.50" r="1.10" fill="#a6163a"/>
<circle cx="458.48" cy="87.00" r="1.10" fill="#a6163a"/>
<line x1="395.04" y1="55.00" x2="395.04" y2="46.90" stroke="#4a2a66" stroke-width="0.90" stroke-linecap="butt"/>
<line x1="393.84" y1="46.90" x2="396.24" y2="46.90" stroke="#4a2a66" stroke-width="0.90" stroke-linecap="butt"/>
<line x1="395.04" y1="62.00" x2="395.04" y2="52.00" stroke="#4a2a66" stroke-width="0.90" stroke-linecap="butt"/>
<line x1="393.84" y1="52.00" x2="396.24" y2="52.00" stroke="#4a2a66" stroke-width="0.90" stroke-linecap="butt"/>
<line x1="404.76" y1="68.80" x2="404.76" y2="64.50" stroke="#4a2a66" stroke-width="0.90" stroke-linecap="butt"/>
<line x1="403.56" y1="64.50" x2="405.96" y2="64.50" stroke="#4a2a66" stroke-width="0.90" stroke-linecap="butt"/>
<line x1="415.99" y1="71.70" x2="415.99" y2="64.60" stroke="#4a2a66" stroke-width="0.90" stroke-linecap="butt"/>
<line x1="414.79" y1="64.60" x2="417.19" y2="64.60" stroke="#4a2a66" stroke-width="0.90" stroke-linecap="butt"/>
<line x1="426.00" y1="73.60" x2="426.00" y2="58.30" stroke="#4a2a66" stroke-width="0.90" stroke-linecap="butt"/>
<line x1="424.80" y1="58.30" x2="427.20" y2="58.30" stroke="#4a2a66" stroke-width="0.90" stroke-linecap="butt"/>
<line x1="437.23" y1="76.00" x2="437.23" y2="66.50" stroke="#4a2a66" stroke-width="0.90" stroke-linecap="butt"/>
<line x1="436.03" y1="66.50" x2="438.43" y2="66.50" stroke="#4a2a66" stroke-width="0.90" stroke-linecap="butt"/>
<line x1="447.25" y1="75.60" x2="447.25" y2="62.60" stroke="#4a2a66" stroke-width="0.90" stroke-linecap="butt"/>
<line x1="446.05" y1="62.60" x2="448.45" y2="62.60" stroke="#4a2a66" stroke-width="0.90" stroke-linecap="butt"/>
<line x1="458.48" y1="80.00" x2="458.48" y2="74.50" stroke="#4a2a66" stroke-width="0.90" stroke-linecap="butt"/>
<line x1="457.28" y1="74.50" x2="459.68" y2="74.50" stroke="#4a2a66" stroke-width="0.90" stroke-linecap="butt"/>
<line x1="468.49" y1="72.30" x2="468.49" y2="55.00" stroke="#4a2a66" stroke-width="0.90" stroke-linecap="butt"/>
<line x1="467.29" y1="55.00" x2="469.69" y2="55.00" stroke="#4a2a66" stroke-width="0.90" stroke-linecap="butt"/>
<line x1="395.04" y1="73.60" x2="395.04" y2="68.00" stroke="#4a2a66" stroke-width="0.90" stroke-linecap="butt"/>
<line x1="393.84" y1="68.00" x2="396.24" y2="68.00" stroke="#4a2a66" stroke-width="0.90" stroke-linecap="butt"/>
<line x1="404.76" y1="84.00" x2="404.76" y2="80.00" stroke="#4a2a66" stroke-width="0.90" stroke-linecap="butt"/>
<line x1="403.56" y1="80.00" x2="405.96" y2="80.00" stroke="#4a2a66" stroke-width="0.90" stroke-linecap="butt"/>
<line x1="383.22" y1="81.50" x2="383.22" y2="73.80" stroke="#4a3a5a" stroke-width="0.90" stroke-linecap="butt"/>
<line x1="382.12" y1="73.80" x2="384.32" y2="73.80" stroke="#4a3a5a" stroke-width="0.90" stroke-linecap="butt"/>
<line x1="382.12" y1="81.50" x2="384.32" y2="81.50" stroke="#4a3a5a" stroke-width="0.90" stroke-linecap="butt"/>
<line x1="385.42" y1="82.00" x2="385.42" y2="74.50" stroke="#4a3a5a" stroke-width="0.90" stroke-linecap="butt"/>
<line x1="384.32" y1="74.50" x2="386.52" y2="74.50" stroke="#4a3a5a" stroke-width="0.90" stroke-linecap="butt"/>
<line x1="384.32" y1="82.00" x2="386.52" y2="82.00" stroke="#4a3a5a" stroke-width="0.90" stroke-linecap="butt"/>
<line x1="386.92" y1="80.50" x2="386.92" y2="75.00" stroke="#4a3a5a" stroke-width="0.90" stroke-linecap="butt"/>
<line x1="385.82" y1="75.00" x2="388.02" y2="75.00" stroke="#4a3a5a" stroke-width="0.90" stroke-linecap="butt"/>
<line x1="385.82" y1="80.50" x2="388.02" y2="80.50" stroke="#4a3a5a" stroke-width="0.90" stroke-linecap="butt"/>
<line x1="476.30" y1="35.30" x2="485.00" y2="35.30" stroke="#3b3f4a" stroke-width="1.50" stroke-linecap="butt"/>
<circle cx="480.60" cy="35.30" r="1.30" fill="#2f333b"/>
<text x="487.80" y="37.34" font-size="5.90" text-anchor="start" fill="#222" font-weight="normal" textLength="15.00" lengthAdjust="spacingAndGlyphs" stroke="#222" stroke-width="0.14">No Ck</text>
<line x1="476.30" y1="42.78" x2="485.00" y2="42.78" stroke="#371f4c" stroke-width="1.50" stroke-linecap="butt"/>
<circle cx="480.60" cy="42.78" r="1.30" fill="#2c193d"/>
<text x="487.80" y="44.82" font-size="5.90" text-anchor="start" fill="#222" font-weight="normal" textLength="7.50" lengthAdjust="spacingAndGlyphs" stroke="#222" stroke-width="0.14">IL2</text>
<line x1="476.30" y1="50.26" x2="485.00" y2="50.26" stroke="#7c102b" stroke-width="1.50" stroke-linecap="butt"/>
<circle cx="480.60" cy="50.26" r="1.30" fill="#630d22"/>
<text x="487.80" y="52.30" font-size="5.90" text-anchor="start" fill="#222" font-weight="normal" textLength="15.50" lengthAdjust="spacingAndGlyphs" stroke="#222" stroke-width="0.14">TPO 5</text>
<line x1="476.30" y1="57.74" x2="485.00" y2="57.74" stroke="#203761" stroke-width="1.50" stroke-linecap="butt"/>
<circle cx="480.60" cy="57.74" r="1.30" fill="#192c4e"/>
<text x="487.80" y="59.78" font-size="5.90" text-anchor="start" fill="#222" font-weight="normal" textLength="19.00" lengthAdjust="spacingAndGlyphs" stroke="#222" stroke-width="0.14">TPO 50</text>
<line x1="476.30" y1="65.22" x2="485.00" y2="65.22" stroke="#518237" stroke-width="1.50" stroke-linecap="butt"/>
<circle cx="480.60" cy="65.22" r="1.30" fill="#40682c"/>
<text x="487.80" y="67.26" font-size="5.90" text-anchor="start" fill="#222" font-weight="normal" textLength="7.50" lengthAdjust="spacingAndGlyphs" stroke="#222" stroke-width="0.14">EP</text>
<line x1="476.30" y1="72.70" x2="485.00" y2="72.70" stroke="#9c682d" stroke-width="1.50" stroke-linecap="butt" stroke-dasharray="1.5,1"/>
<circle cx="480.60" cy="72.70" r="1.30" fill="#7d5324"/>
<text x="487.80" y="74.74" font-size="5.90" text-anchor="start" fill="#222" font-weight="normal" textLength="17.50" lengthAdjust="spacingAndGlyphs" stroke="#222" stroke-width="0.14">aCD28</text>
<line x1="476.30" y1="80.18" x2="485.00" y2="80.18" stroke="#211e42" stroke-width="1.50" stroke-linecap="butt" stroke-dasharray="1.5,1"/>
<circle cx="480.60" cy="80.18" r="1.30" fill="#1a1834"/>
<text x="487.80" y="82.22" font-size="5.90" text-anchor="start" fill="#222" font-weight="normal" textLength="27.50" lengthAdjust="spacingAndGlyphs" stroke="#222" stroke-width="0.14">IL2+aCD28</text>
<line x1="42.20" y1="157.00" x2="42.20" y2="218.60" stroke="#111" stroke-width="1.20" stroke-linecap="butt"/>
<line x1="38.70" y1="218.10" x2="115.50" y2="218.10" stroke="#111" stroke-width="1.40" stroke-linecap="butt"/>
<line x1="38.20" y1="218.10" x2="42.20" y2="218.10" stroke="#111" stroke-width="1.20" stroke-linecap="butt"/>
<text x="36.00" y="220.04" font-size="6.50" text-anchor="end" fill="#222" font-weight="normal" stroke="#222" stroke-width="0.12">0</text>
<line x1="38.20" y1="203.52" x2="42.20" y2="203.52" stroke="#111" stroke-width="1.20" stroke-linecap="butt"/>
<text x="36.00" y="205.46" font-size="6.50" text-anchor="end" fill="#222" font-weight="normal" stroke="#222" stroke-width="0.12">10</text>
<line x1="38.20" y1="188.94" x2="42.20" y2="188.94" stroke="#111" stroke-width="1.20" stroke-linecap="butt"/>
<text x="36.00" y="190.88" font-size="6.50" text-anchor="end" fill="#222" font-weight="normal" stroke="#222" stroke-width="0.12">20</text>
<line x1="38.20" y1="174.36" x2="42.20" y2="174.36" stroke="#111" stroke-width="1.20" stroke-linecap="butt"/>
<text x="36.00" y="176.30" font-size="6.50" text-anchor="end" fill="#222" font-weight="normal" stroke="#222" stroke-width="0.12">30</text>
<line x1="38.20" y1="159.78" x2="42.20" y2="159.78" stroke="#111" stroke-width="1.20" stroke-linecap="butt"/>
<text x="36.00" y="161.72" font-size="6.50" text-anchor="end" fill="#222" font-weight="normal" stroke="#222" stroke-width="0.12">40</text>
<text x="45.60" y="156.04" font-size="6.50" text-anchor="start" fill="#262626" font-weight="normal" textLength="15.60" lengthAdjust="spacingAndGlyphs" stroke="#262626" stroke-width="0.10">IFN-γ</text>
<rect x="44.10" y="213.00" width="3.25" height="5.10" fill="#736b7d"/>
<line x1="45.72" y1="213.00" x2="45.72" y2="210.08" stroke="#1e1e1e" stroke-width="1.15" stroke-linecap="butt"/>
<line x1="44.62" y1="210.08" x2="46.82" y2="210.08" stroke="#1e1e1e" stroke-width="1.15" stroke-linecap="butt"/>
<rect x="48.05" y="186.02" width="3.25" height="32.08" fill="#a9143a"/>
<line x1="49.67" y1="186.02" x2="49.67" y2="179.46" stroke="#1e1e1e" stroke-width="1.15" stroke-linecap="butt"/>
<line x1="48.57" y1="179.46" x2="50.77" y2="179.46" stroke="#1e1e1e" stroke-width="1.15" stroke-linecap="butt"/>
<rect x="52.00" y="180.19" width="3.25" height="37.91" fill="#2d4a89"/>
<line x1="53.62" y1="180.19" x2="53.62" y2="172.17" stroke="#1e1e1e" stroke-width="1.15" stroke-linecap="butt"/>
<line x1="52.52" y1="172.17" x2="54.72" y2="172.17" stroke="#1e1e1e" stroke-width="1.15" stroke-linecap="butt"/>
<rect x="55.95" y="188.94" width="3.25" height="29.16" fill="#6cab4c"/>
<line x1="57.57" y1="188.94" x2="57.57" y2="180.19" stroke="#1e1e1e" stroke-width="1.15" stroke-linecap="butt"/>
<line x1="56.47" y1="180.19" x2="58.67" y2="180.19" stroke="#1e1e1e" stroke-width="1.15" stroke-linecap="butt"/>
<line x1="51.30" y1="218.10" x2="51.30" y2="220.90" stroke="#111" stroke-width="1.00" stroke-linecap="butt"/>
<rect x="62.45" y="216.64" width="3.25" height="1.46" fill="#736b7d"/>
<rect x="66.40" y="193.31" width="3.25" height="24.79" fill="#a9143a"/>
<line x1="68.02" y1="193.31" x2="68.02" y2="186.75" stroke="#1e1e1e" stroke-width="1.15" stroke-linecap="butt"/>
<line x1="66.92" y1="186.75" x2="69.12" y2="186.75" stroke="#1e1e1e" stroke-width="1.15" stroke-linecap="butt"/>
<rect x="70.35" y="183.11" width="3.25" height="34.99" fill="#2d4a89"/>
<line x1="71.97" y1="183.11" x2="71.97" y2="172.17" stroke="#1e1e1e" stroke-width="1.15" stroke-linecap="butt"/>
<line x1="70.87" y1="172.17" x2="73.07" y2="172.17" stroke="#1e1e1e" stroke-width="1.15" stroke-linecap="butt"/>
<rect x="74.30" y="184.57" width="3.25" height="33.53" fill="#6cab4c"/>
<line x1="75.92" y1="184.57" x2="75.92" y2="171.44" stroke="#1e1e1e" stroke-width="1.15" stroke-linecap="butt"/>
<line x1="74.82" y1="171.44" x2="77.02" y2="171.44" stroke="#1e1e1e" stroke-width="1.15" stroke-linecap="butt"/>
<line x1="69.65" y1="218.10" x2="69.65" y2="220.90" stroke="#111" stroke-width="1.00" stroke-linecap="butt"/>
<rect x="84.75" y="207.89" width="3.25" height="10.21" fill="#a9143a"/>
<line x1="86.37" y1="207.89" x2="86.37" y2="204.25" stroke="#1e1e1e" stroke-width="1.15" stroke-linecap="butt"/>
<line x1="85.27" y1="204.25" x2="87.47" y2="204.25" stroke="#1e1e1e" stroke-width="1.15" stroke-linecap="butt"/>
<rect x="88.70" y="191.86" width="3.25" height="26.24" fill="#2d4a89"/>
<line x1="90.32" y1="191.86" x2="90.32" y2="179.46" stroke="#1e1e1e" stroke-width="1.15" stroke-linecap="butt"/>
<line x1="89.22" y1="179.46" x2="91.42" y2="179.46" stroke="#1e1e1e" stroke-width="1.15" stroke-linecap="butt"/>
<rect x="92.65" y="204.25" width="3.25" height="13.85" fill="#6cab4c"/>
<line x1="94.27" y1="204.25" x2="94.27" y2="195.79" stroke="#1e1e1e" stroke-width="1.15" stroke-linecap="butt"/>
<line x1="93.17" y1="195.79" x2="95.37" y2="195.79" stroke="#1e1e1e" stroke-width="1.15" stroke-linecap="butt"/>
<line x1="88.00" y1="218.10" x2="88.00" y2="220.90" stroke="#111" stroke-width="1.00" stroke-linecap="butt"/>
<rect x="107.05" y="199.15" width="3.25" height="18.95" fill="#2d4a89"/>
<line x1="108.67" y1="199.15" x2="108.67" y2="187.04" stroke="#1e1e1e" stroke-width="1.15" stroke-linecap="butt"/>
<line x1="107.57" y1="187.04" x2="109.77" y2="187.04" stroke="#1e1e1e" stroke-width="1.15" stroke-linecap="butt"/>
<rect x="111.00" y="213.00" width="3.25" height="5.10" fill="#6cab4c"/>
<line x1="112.62" y1="213.00" x2="112.62" y2="212.12" stroke="#1e1e1e" stroke-width="1.15" stroke-linecap="butt"/>
<line x1="111.52" y1="212.12" x2="113.72" y2="212.12" stroke="#1e1e1e" stroke-width="1.15" stroke-linecap="butt"/>
<line x1="106.35" y1="218.10" x2="106.35" y2="220.90" stroke="#111" stroke-width="1.00" stroke-linecap="butt"/>
<text x="0" y="0" font-size="9.0" fill="#222" stroke="#222" stroke-width="0.2" text-anchor="middle" transform="translate(22.9 188.00) rotate(-90)" textLength="19.8" lengthAdjust="spacingAndGlyphs">ng/ml</text>
<line x1="44.50" y1="164.50" x2="57.50" y2="164.50" stroke="#161616" stroke-width="1.35" stroke-linecap="butt"/>
<text x="51.00" y="165.51" font-size="6.40" text-anchor="middle" fill="#1a1a1a" font-weight="normal" stroke="#1a1a1a" stroke-width="0.30">*</text>
<line x1="44.50" y1="170.50" x2="53.70" y2="170.50" stroke="#161616" stroke-width="1.35" stroke-linecap="butt"/>
<text x="49.10" y="171.51" font-size="6.40" text-anchor="middle" fill="#1a1a1a" font-weight="normal" stroke="#1a1a1a" stroke-width="0.30">*</text>
<line x1="44.50" y1="177.50" x2="49.90" y2="177.50" stroke="#161616" stroke-width="1.35" stroke-linecap="butt"/>
<text x="47.20" y="178.51" font-size="6.40" text-anchor="middle" fill="#1a1a1a" font-weight="normal" stroke="#1a1a1a" stroke-width="0.30">*</text>
<line x1="62.85" y1="164.50" x2="75.85" y2="164.50" stroke="#161616" stroke-width="1.35" stroke-linecap="butt"/>
<text x="69.35" y="165.51" font-size="6.40" text-anchor="middle" fill="#1a1a1a" font-weight="normal" stroke="#1a1a1a" stroke-width="0.30">*</text>
<line x1="62.85" y1="170.50" x2="72.05" y2="170.50" stroke="#161616" stroke-width="1.35" stroke-linecap="butt"/>
<text x="67.45" y="171.51" font-size="6.40" text-anchor="middle" fill="#1a1a1a" font-weight="normal" stroke="#1a1a1a" stroke-width="0.30">*</text>
<line x1="62.85" y1="177.50" x2="68.25" y2="177.50" stroke="#161616" stroke-width="1.35" stroke-linecap="butt"/>
<text x="65.55" y="178.51" font-size="6.40" text-anchor="middle" fill="#1a1a1a" font-weight="normal" stroke="#1a1a1a" stroke-width="0.30">*</text>
<line x1="81.20" y1="164.50" x2="94.20" y2="164.50" stroke="#161616" stroke-width="1.35" stroke-linecap="butt"/>
<text x="86.10" y="165.51" font-size="6.40" text-anchor="middle" fill="#1a1a1a" font-weight="normal" stroke="#1a1a1a" stroke-width="0.30">*</text>
<text x="89.30" y="165.51" font-size="6.40" text-anchor="middle" fill="#1a1a1a" font-weight="normal" stroke="#1a1a1a" stroke-width="0.30">*</text>
<line x1="81.20" y1="170.50" x2="90.40" y2="170.50" stroke="#161616" stroke-width="1.35" stroke-linecap="butt"/>
<text x="84.20" y="171.51" font-size="6.40" text-anchor="middle" fill="#1a1a1a" font-weight="normal" stroke="#1a1a1a" stroke-width="0.30">*</text>
<text x="87.40" y="171.51" font-size="6.40" text-anchor="middle" fill="#1a1a1a" font-weight="normal" stroke="#1a1a1a" stroke-width="0.30">*</text>
<line x1="81.20" y1="177.50" x2="86.60" y2="177.50" stroke="#161616" stroke-width="1.35" stroke-linecap="butt"/>
<text x="82.30" y="178.51" font-size="6.40" text-anchor="middle" fill="#1a1a1a" font-weight="normal" stroke="#1a1a1a" stroke-width="0.30">*</text>
<text x="85.50" y="178.51" font-size="6.40" text-anchor="middle" fill="#1a1a1a" font-weight="normal" stroke="#1a1a1a" stroke-width="0.30">*</text>
<line x1="102.90" y1="177.50" x2="108.70" y2="177.50" stroke="#161616" stroke-width="1.35" stroke-linecap="butt"/>
<text x="104.20" y="178.51" font-size="6.40" text-anchor="middle" fill="#1a1a1a" font-weight="normal" stroke="#1a1a1a" stroke-width="0.30">*</text>
<text x="107.40" y="178.51" font-size="6.40" text-anchor="middle" fill="#1a1a1a" font-weight="normal" stroke="#1a1a1a" stroke-width="0.30">*</text>
<line x1="135.40" y1="157.00" x2="135.40" y2="218.60" stroke="#111" stroke-width="1.20" stroke-linecap="butt"/>
<line x1="131.90" y1="218.10" x2="208.80" y2="218.10" stroke="#111" stroke-width="1.40" stroke-linecap="butt"/>
<line x1="131.40" y1="218.10" x2="135.40" y2="218.10" stroke="#111" stroke-width="1.20" stroke-linecap="butt"/>
<text x="129.20" y="220.04" font-size="6.50" text-anchor="end" fill="#222" font-weight="normal" stroke="#222" stroke-width="0.12">0</text>
<line x1="131.40" y1="198.85" x2="135.40" y2="198.85" stroke="#111" stroke-width="1.20" stroke-linecap="butt"/>
<text x="129.20" y="200.79" font-size="6.50" text-anchor="end" fill="#222" font-weight="normal" stroke="#222" stroke-width="0.12">5</text>
<line x1="131.40" y1="179.60" x2="135.40" y2="179.60" stroke="#111" stroke-width="1.20" stroke-linecap="butt"/>
<text x="129.20" y="181.54" font-size="6.50" text-anchor="end" fill="#222" font-weight="normal" stroke="#222" stroke-width="0.12">10</text>
<line x1="131.40" y1="160.35" x2="135.40" y2="160.35" stroke="#111" stroke-width="1.20" stroke-linecap="butt"/>
<text x="129.20" y="162.29" font-size="6.50" text-anchor="end" fill="#222" font-weight="normal" stroke="#222" stroke-width="0.12">15</text>
<text x="141.30" y="156.04" font-size="6.50" text-anchor="start" fill="#262626" font-weight="normal" textLength="18.10" lengthAdjust="spacingAndGlyphs" stroke="#262626" stroke-width="0.10">TNF-α</text>
<rect x="137.30" y="210.40" width="3.25" height="7.70" fill="#736b7d"/>
<line x1="138.92" y1="210.40" x2="138.92" y2="208.86" stroke="#1e1e1e" stroke-width="1.15" stroke-linecap="butt"/>
<line x1="137.82" y1="208.86" x2="140.02" y2="208.86" stroke="#1e1e1e" stroke-width="1.15" stroke-linecap="butt"/>
<rect x="141.25" y="201.54" width="3.25" height="16.55" fill="#a9143a"/>
<line x1="142.87" y1="201.54" x2="142.87" y2="198.08" stroke="#1e1e1e" stroke-width="1.15" stroke-linecap="butt"/>
<line x1="141.77" y1="198.08" x2="143.97" y2="198.08" stroke="#1e1e1e" stroke-width="1.15" stroke-linecap="butt"/>
<rect x="145.20" y="198.85" width="3.25" height="19.25" fill="#2d4a89"/>
<line x1="146.82" y1="198.85" x2="146.82" y2="195.38" stroke="#1e1e1e" stroke-width="1.15" stroke-linecap="butt"/>
<line x1="145.72" y1="195.38" x2="147.92" y2="195.38" stroke="#1e1e1e" stroke-width="1.15" stroke-linecap="butt"/>
<rect x="149.15" y="205.78" width="3.25" height="12.32" fill="#6cab4c"/>
<line x1="150.77" y1="205.78" x2="150.77" y2="203.09" stroke="#1e1e1e" stroke-width="1.15" stroke-linecap="butt"/>
<line x1="149.67" y1="203.09" x2="151.87" y2="203.09" stroke="#1e1e1e" stroke-width="1.15" stroke-linecap="butt"/>
<line x1="144.50" y1="218.10" x2="144.50" y2="220.90" stroke="#111" stroke-width="1.00" stroke-linecap="butt"/>
<rect x="155.65" y="215.41" width="3.25" height="2.69" fill="#736b7d"/>
<line x1="157.27" y1="215.41" x2="157.27" y2="214.63" stroke="#1e1e1e" stroke-width="1.15" stroke-linecap="butt"/>
<line x1="156.17" y1="214.63" x2="158.37" y2="214.63" stroke="#1e1e1e" stroke-width="1.15" stroke-linecap="butt"/>
<rect x="159.60" y="200.78" width="3.25" height="17.32" fill="#a9143a"/>
<line x1="161.22" y1="200.78" x2="161.22" y2="193.84" stroke="#1e1e1e" stroke-width="1.15" stroke-linecap="butt"/>
<line x1="160.12" y1="193.84" x2="162.32" y2="193.84" stroke="#1e1e1e" stroke-width="1.15" stroke-linecap="butt"/>
<rect x="163.55" y="191.92" width="3.25" height="26.18" fill="#2d4a89"/>
<line x1="165.17" y1="191.92" x2="165.17" y2="183.45" stroke="#1e1e1e" stroke-width="1.15" stroke-linecap="butt"/>
<line x1="164.07" y1="183.45" x2="166.27" y2="183.45" stroke="#1e1e1e" stroke-width="1.15" stroke-linecap="butt"/>
<rect x="167.50" y="187.30" width="3.25" height="30.80" fill="#6cab4c"/>
<line x1="169.12" y1="187.30" x2="169.12" y2="177.29" stroke="#1e1e1e" stroke-width="1.15" stroke-linecap="butt"/>
<line x1="168.02" y1="177.29" x2="170.22" y2="177.29" stroke="#1e1e1e" stroke-width="1.15" stroke-linecap="butt"/>
<line x1="162.85" y1="218.10" x2="162.85" y2="220.90" stroke="#111" stroke-width="1.00" stroke-linecap="butt"/>
<rect x="177.95" y="211.17" width="3.25" height="6.93" fill="#a9143a"/>
<line x1="179.57" y1="211.17" x2="179.57" y2="209.24" stroke="#1e1e1e" stroke-width="1.15" stroke-linecap="butt"/>
<line x1="178.47" y1="209.24" x2="180.67" y2="209.24" stroke="#1e1e1e" stroke-width="1.15" stroke-linecap="butt"/>
<rect x="181.90" y="198.85" width="3.25" height="19.25" fill="#2d4a89"/>
<line x1="183.52" y1="198.85" x2="183.52" y2="192.69" stroke="#1e1e1e" stroke-width="1.15" stroke-linecap="butt"/>
<line x1="182.42" y1="192.69" x2="184.62" y2="192.69" stroke="#1e1e1e" stroke-width="1.15" stroke-linecap="butt"/>
<rect x="185.85" y="201.93" width="3.25" height="16.17" fill="#6cab4c"/>
<line x1="187.47" y1="201.93" x2="187.47" y2="195.00" stroke="#1e1e1e" stroke-width="1.15" stroke-linecap="butt"/>
<line x1="186.37" y1="195.00" x2="188.57" y2="195.00" stroke="#1e1e1e" stroke-width="1.15" stroke-linecap="butt"/>
<line x1="181.20" y1="218.10" x2="181.20" y2="220.90" stroke="#111" stroke-width="1.00" stroke-linecap="butt"/>
<rect x="200.25" y="170.75" width="3.25" height="47.36" fill="#2d4a89"/>
<line x1="199.55" y1="218.10" x2="199.55" y2="220.90" stroke="#111" stroke-width="1.00" stroke-linecap="butt"/>
<line x1="137.70" y1="164.50" x2="150.70" y2="164.50" stroke="#161616" stroke-width="1.35" stroke-linecap="butt"/>
<text x="144.20" y="163.12" font-size="4.40" text-anchor="middle" fill="#333" font-weight="normal" textLength="5.40" lengthAdjust="spacingAndGlyphs" stroke="#333" stroke-width="0.10">NS</text>
<line x1="137.70" y1="170.50" x2="146.90" y2="170.50" stroke="#161616" stroke-width="1.35" stroke-linecap="butt"/>
<text x="142.30" y="171.51" font-size="6.40" text-anchor="middle" fill="#1a1a1a" font-weight="normal" stroke="#1a1a1a" stroke-width="0.30">*</text>
<line x1="137.70" y1="177.50" x2="143.10" y2="177.50" stroke="#161616" stroke-width="1.35" stroke-linecap="butt"/>
<text x="140.40" y="178.51" font-size="6.40" text-anchor="middle" fill="#1a1a1a" font-weight="normal" stroke="#1a1a1a" stroke-width="0.30">*</text>
<line x1="156.05" y1="164.50" x2="169.05" y2="164.50" stroke="#161616" stroke-width="1.35" stroke-linecap="butt"/>
<text x="162.55" y="165.51" font-size="6.40" text-anchor="middle" fill="#1a1a1a" font-weight="normal" stroke="#1a1a1a" stroke-width="0.30">*</text>
<line x1="156.05" y1="170.50" x2="165.25" y2="170.50" stroke="#161616" stroke-width="1.35" stroke-linecap="butt"/>
<text x="160.65" y="171.51" font-size="6.40" text-anchor="middle" fill="#1a1a1a" font-weight="normal" stroke="#1a1a1a" stroke-width="0.30">*</text>
<line x1="156.05" y1="177.50" x2="161.45" y2="177.50" stroke="#161616" stroke-width="1.35" stroke-linecap="butt"/>
<text x="158.75" y="178.51" font-size="6.40" text-anchor="middle" fill="#1a1a1a" font-weight="normal" stroke="#1a1a1a" stroke-width="0.30">*</text>
<line x1="174.40" y1="164.50" x2="187.40" y2="164.50" stroke="#161616" stroke-width="1.35" stroke-linecap="butt"/>
<text x="179.30" y="165.51" font-size="6.40" text-anchor="middle" fill="#1a1a1a" font-weight="normal" stroke="#1a1a1a" stroke-width="0.30">*</text>
<text x="182.50" y="165.51" font-size="6.40" text-anchor="middle" fill="#1a1a1a" font-weight="normal" stroke="#1a1a1a" stroke-width="0.30">*</text>
<line x1="174.40" y1="170.50" x2="183.60" y2="170.50" stroke="#161616" stroke-width="1.35" stroke-linecap="butt"/>
<text x="179.00" y="171.51" font-size="6.40" text-anchor="middle" fill="#1a1a1a" font-weight="normal" stroke="#1a1a1a" stroke-width="0.30">*</text>
<line x1="174.40" y1="177.50" x2="179.80" y2="177.50" stroke="#161616" stroke-width="1.35" stroke-linecap="butt"/>
<text x="177.10" y="178.51" font-size="6.40" text-anchor="middle" fill="#1a1a1a" font-weight="normal" stroke="#1a1a1a" stroke-width="0.30">*</text>
<line x1="42.20" y1="236.30" x2="42.20" y2="298.60" stroke="#111" stroke-width="1.20" stroke-linecap="butt"/>
<line x1="38.70" y1="298.10" x2="115.50" y2="298.10" stroke="#111" stroke-width="1.40" stroke-linecap="butt"/>
<line x1="38.20" y1="298.10" x2="42.20" y2="298.10" stroke="#111" stroke-width="1.20" stroke-linecap="butt"/>
<text x="36.00" y="300.04" font-size="6.50" text-anchor="end" fill="#222" font-weight="normal" stroke="#222" stroke-width="0.12">0</text>
<line x1="38.20" y1="268.70" x2="42.20" y2="268.70" stroke="#111" stroke-width="1.20" stroke-linecap="butt"/>
<text x="36.00" y="270.64" font-size="6.50" text-anchor="end" fill="#222" font-weight="normal" stroke="#222" stroke-width="0.12">5</text>
<line x1="38.20" y1="239.30" x2="42.20" y2="239.30" stroke="#111" stroke-width="1.20" stroke-linecap="butt"/>
<text x="36.00" y="241.24" font-size="6.50" text-anchor="end" fill="#222" font-weight="normal" stroke="#222" stroke-width="0.12">10</text>
<text x="45.60" y="235.34" font-size="6.50" text-anchor="start" fill="#262626" font-weight="normal" textLength="23.00" lengthAdjust="spacingAndGlyphs" stroke="#262626" stroke-width="0.10">Perforin</text>
<rect x="44.10" y="295.75" width="3.25" height="2.35" fill="#736b7d"/>
<rect x="48.05" y="295.75" width="3.25" height="2.35" fill="#a9143a"/>
<rect x="52.00" y="296.34" width="3.25" height="1.76" fill="#2d4a89"/>
<rect x="55.95" y="296.04" width="3.25" height="2.06" fill="#6cab4c"/>
<line x1="51.30" y1="298.10" x2="51.30" y2="300.90" stroke="#111" stroke-width="1.00" stroke-linecap="butt"/>
<rect x="62.45" y="294.57" width="3.25" height="3.53" fill="#736b7d"/>
<line x1="64.07" y1="294.57" x2="64.07" y2="293.98" stroke="#1e1e1e" stroke-width="1.15" stroke-linecap="butt"/>
<line x1="62.97" y1="293.98" x2="65.17" y2="293.98" stroke="#1e1e1e" stroke-width="1.15" stroke-linecap="butt"/>
<rect x="66.40" y="289.28" width="3.25" height="8.82" fill="#a9143a"/>
<line x1="68.02" y1="289.28" x2="68.02" y2="285.16" stroke="#1e1e1e" stroke-width="1.15" stroke-linecap="butt"/>
<line x1="66.92" y1="285.16" x2="69.12" y2="285.16" stroke="#1e1e1e" stroke-width="1.15" stroke-linecap="butt"/>
<rect x="70.35" y="276.34" width="3.25" height="21.76" fill="#2d4a89"/>
<line x1="71.97" y1="276.34" x2="71.97" y2="268.70" stroke="#1e1e1e" stroke-width="1.15" stroke-linecap="butt"/>
<line x1="70.87" y1="268.70" x2="73.07" y2="268.70" stroke="#1e1e1e" stroke-width="1.15" stroke-linecap="butt"/>
<rect x="74.30" y="277.52" width="3.25" height="20.58" fill="#6cab4c"/>
<line x1="75.92" y1="277.52" x2="75.92" y2="269.29" stroke="#1e1e1e" stroke-width="1.15" stroke-linecap="butt"/>
<line x1="74.82" y1="269.29" x2="77.02" y2="269.29" stroke="#1e1e1e" stroke-width="1.15" stroke-linecap="butt"/>
<line x1="69.65" y1="298.10" x2="69.65" y2="300.90" stroke="#111" stroke-width="1.00" stroke-linecap="butt"/>
<rect x="84.75" y="289.28" width="3.25" height="8.82" fill="#a9143a"/>
<line x1="86.37" y1="289.28" x2="86.37" y2="284.58" stroke="#1e1e1e" stroke-width="1.15" stroke-linecap="butt"/>
<line x1="85.27" y1="284.58" x2="87.47" y2="284.58" stroke="#1e1e1e" stroke-width="1.15" stroke-linecap="butt"/>
<rect x="88.70" y="265.76" width="3.25" height="32.34" fill="#2d4a89"/>
<line x1="90.32" y1="265.76" x2="90.32" y2="254.00" stroke="#1e1e1e" stroke-width="1.15" stroke-linecap="butt"/>
<line x1="89.22" y1="254.00" x2="91.42" y2="254.00" stroke="#1e1e1e" stroke-width="1.15" stroke-linecap="butt"/>
<rect x="92.65" y="278.70" width="3.25" height="19.40" fill="#6cab4c"/>
<line x1="94.27" y1="278.70" x2="94.27" y2="269.29" stroke="#1e1e1e" stroke-width="1.15" stroke-linecap="butt"/>
<line x1="93.17" y1="269.29" x2="95.37" y2="269.29" stroke="#1e1e1e" stroke-width="1.15" stroke-linecap="butt"/>
<line x1="88.00" y1="298.10" x2="88.00" y2="300.90" stroke="#111" stroke-width="1.00" stroke-linecap="butt"/>
<rect x="107.05" y="266.94" width="3.25" height="31.16" fill="#2d4a89"/>
<line x1="106.35" y1="298.10" x2="106.35" y2="300.90" stroke="#111" stroke-width="1.00" stroke-linecap="butt"/>
<text x="0" y="0" font-size="9.0" fill="#222" stroke="#222" stroke-width="0.2" text-anchor="middle" transform="translate(22.9 267.30) rotate(-90)" textLength="19.8" lengthAdjust="spacingAndGlyphs">ng/ml</text>
<line x1="44.50" y1="277.50" x2="57.50" y2="277.50" stroke="#161616" stroke-width="1.35" stroke-linecap="butt"/>
<text x="51.00" y="276.12" font-size="4.40" text-anchor="middle" fill="#333" font-weight="normal" textLength="5.40" lengthAdjust="spacingAndGlyphs" stroke="#333" stroke-width="0.10">NS</text>
<line x1="44.50" y1="284.50" x2="53.70" y2="284.50" stroke="#161616" stroke-width="1.35" stroke-linecap="butt"/>
<text x="49.10" y="283.12" font-size="4.40" text-anchor="middle" fill="#333" font-weight="normal" textLength="5.40" lengthAdjust="spacingAndGlyphs" stroke="#333" stroke-width="0.10">NS</text>
<line x1="44.50" y1="290.50" x2="49.90" y2="290.50" stroke="#161616" stroke-width="1.35" stroke-linecap="butt"/>
<text x="47.20" y="289.12" font-size="4.40" text-anchor="middle" fill="#333" font-weight="normal" textLength="5.40" lengthAdjust="spacingAndGlyphs" stroke="#333" stroke-width="0.10">NS</text>
<line x1="62.50" y1="259.50" x2="75.00" y2="259.50" stroke="#161616" stroke-width="1.35" stroke-linecap="butt"/>
<text x="68.75" y="260.51" font-size="6.40" text-anchor="middle" fill="#1a1a1a" font-weight="normal" stroke="#1a1a1a" stroke-width="0.30">*</text>
<line x1="62.50" y1="265.50" x2="71.90" y2="265.50" stroke="#161616" stroke-width="1.35" stroke-linecap="butt"/>
<text x="67.20" y="266.51" font-size="6.40" text-anchor="middle" fill="#1a1a1a" font-weight="normal" stroke="#1a1a1a" stroke-width="0.30">*</text>
<line x1="62.50" y1="272.50" x2="67.70" y2="272.50" stroke="#161616" stroke-width="1.35" stroke-linecap="butt"/>
<text x="65.10" y="271.12" font-size="4.40" text-anchor="middle" fill="#333" font-weight="normal" textLength="5.40" lengthAdjust="spacingAndGlyphs" stroke="#333" stroke-width="0.10">NS</text>
<line x1="81.40" y1="243.50" x2="93.90" y2="243.50" stroke="#161616" stroke-width="1.35" stroke-linecap="butt"/>
<text x="86.05" y="244.51" font-size="6.40" text-anchor="middle" fill="#1a1a1a" font-weight="normal" stroke="#1a1a1a" stroke-width="0.30">*</text>
<text x="89.25" y="244.51" font-size="6.40" text-anchor="middle" fill="#1a1a1a" font-weight="normal" stroke="#1a1a1a" stroke-width="0.30">*</text>
<line x1="81.40" y1="249.50" x2="90.80" y2="249.50" stroke="#161616" stroke-width="1.35" stroke-linecap="butt"/>
<text x="84.50" y="250.51" font-size="6.40" text-anchor="middle" fill="#1a1a1a" font-weight="normal" stroke="#1a1a1a" stroke-width="0.30">*</text>
<text x="87.70" y="250.51" font-size="6.40" text-anchor="middle" fill="#1a1a1a" font-weight="normal" stroke="#1a1a1a" stroke-width="0.30">*</text>
<line x1="81.40" y1="256.50" x2="86.60" y2="256.50" stroke="#161616" stroke-width="1.35" stroke-linecap="butt"/>
<text x="82.40" y="257.51" font-size="6.40" text-anchor="middle" fill="#1a1a1a" font-weight="normal" stroke="#1a1a1a" stroke-width="0.30">*</text>
<text x="85.60" y="257.51" font-size="6.40" text-anchor="middle" fill="#1a1a1a" font-weight="normal" stroke="#1a1a1a" stroke-width="0.30">*</text>
<line x1="135.40" y1="236.50" x2="135.40" y2="298.70" stroke="#111" stroke-width="1.20" stroke-linecap="butt"/>
<line x1="131.90" y1="298.20" x2="209.20" y2="298.20" stroke="#111" stroke-width="1.40" stroke-linecap="butt"/>
<line x1="131.40" y1="298.20" x2="135.40" y2="298.20" stroke="#111" stroke-width="1.20" stroke-linecap="butt"/>
<text x="129.20" y="300.14" font-size="6.50" text-anchor="end" fill="#222" font-weight="normal" stroke="#222" stroke-width="0.12">0</text>
<line x1="131.40" y1="278.96" x2="135.40" y2="278.96" stroke="#111" stroke-width="1.20" stroke-linecap="butt"/>
<text x="129.20" y="280.90" font-size="6.50" text-anchor="end" fill="#222" font-weight="normal" stroke="#222" stroke-width="0.12">2</text>
<line x1="131.40" y1="259.72" x2="135.40" y2="259.72" stroke="#111" stroke-width="1.20" stroke-linecap="butt"/>
<text x="129.20" y="261.66" font-size="6.50" text-anchor="end" fill="#222" font-weight="normal" stroke="#222" stroke-width="0.12">4</text>
<line x1="131.40" y1="240.48" x2="135.40" y2="240.48" stroke="#111" stroke-width="1.20" stroke-linecap="butt"/>
<text x="129.20" y="242.42" font-size="6.50" text-anchor="end" fill="#222" font-weight="normal" stroke="#222" stroke-width="0.12">6</text>
<text x="145.00" y="235.24" font-size="6.50" text-anchor="start" fill="#262626" font-weight="normal" textLength="11.20" lengthAdjust="spacingAndGlyphs" stroke="#262626" stroke-width="0.10">IL-2</text>
<rect x="137.30" y="269.34" width="3.25" height="28.86" fill="#736b7d"/>
<line x1="138.92" y1="269.34" x2="138.92" y2="265.97" stroke="#1e1e1e" stroke-width="1.15" stroke-linecap="butt"/>
<line x1="137.82" y1="265.97" x2="140.02" y2="265.97" stroke="#1e1e1e" stroke-width="1.15" stroke-linecap="butt"/>
<rect x="141.25" y="272.23" width="3.25" height="25.97" fill="#a9143a"/>
<line x1="142.87" y1="272.23" x2="142.87" y2="268.86" stroke="#1e1e1e" stroke-width="1.15" stroke-linecap="butt"/>
<line x1="141.77" y1="268.86" x2="143.97" y2="268.86" stroke="#1e1e1e" stroke-width="1.15" stroke-linecap="butt"/>
<rect x="145.20" y="261.64" width="3.25" height="36.56" fill="#2d4a89"/>
<line x1="146.82" y1="261.64" x2="146.82" y2="254.91" stroke="#1e1e1e" stroke-width="1.15" stroke-linecap="butt"/>
<line x1="145.72" y1="254.91" x2="147.92" y2="254.91" stroke="#1e1e1e" stroke-width="1.15" stroke-linecap="butt"/>
<rect x="149.15" y="254.43" width="3.25" height="43.77" fill="#6cab4c"/>
<line x1="150.77" y1="254.43" x2="150.77" y2="247.21" stroke="#1e1e1e" stroke-width="1.15" stroke-linecap="butt"/>
<line x1="149.67" y1="247.21" x2="151.87" y2="247.21" stroke="#1e1e1e" stroke-width="1.15" stroke-linecap="butt"/>
<line x1="144.50" y1="298.20" x2="144.50" y2="301.00" stroke="#111" stroke-width="1.00" stroke-linecap="butt"/>
<rect x="159.60" y="294.83" width="3.25" height="3.37" fill="#a9143a"/>
<line x1="161.22" y1="294.83" x2="161.22" y2="293.87" stroke="#1e1e1e" stroke-width="1.15" stroke-linecap="butt"/>
<line x1="160.12" y1="293.87" x2="162.32" y2="293.87" stroke="#1e1e1e" stroke-width="1.15" stroke-linecap="butt"/>
<rect x="163.55" y="295.31" width="3.25" height="2.89" fill="#2d4a89"/>
<line x1="165.17" y1="295.31" x2="165.17" y2="293.87" stroke="#1e1e1e" stroke-width="1.15" stroke-linecap="butt"/>
<line x1="164.07" y1="293.87" x2="166.27" y2="293.87" stroke="#1e1e1e" stroke-width="1.15" stroke-linecap="butt"/>
<rect x="167.50" y="294.83" width="3.25" height="3.37" fill="#6cab4c"/>
<line x1="169.12" y1="294.83" x2="169.12" y2="293.39" stroke="#1e1e1e" stroke-width="1.15" stroke-linecap="butt"/>
<line x1="168.02" y1="293.39" x2="170.22" y2="293.39" stroke="#1e1e1e" stroke-width="1.15" stroke-linecap="butt"/>
<line x1="162.85" y1="298.20" x2="162.85" y2="301.00" stroke="#111" stroke-width="1.00" stroke-linecap="butt"/>
<rect x="177.95" y="297.72" width="3.25" height="0.48" fill="#a9143a"/>
<rect x="181.90" y="296.76" width="3.25" height="1.44" fill="#2d4a89"/>
<rect x="185.85" y="297.72" width="3.25" height="0.48" fill="#6cab4c"/>
<line x1="181.20" y1="298.20" x2="181.20" y2="301.00" stroke="#111" stroke-width="1.00" stroke-linecap="butt"/>
<line x1="199.55" y1="298.20" x2="199.55" y2="301.00" stroke="#111" stroke-width="1.00" stroke-linecap="butt"/>
<line x1="137.70" y1="243.50" x2="150.70" y2="243.50" stroke="#161616" stroke-width="1.35" stroke-linecap="butt"/>
<text x="144.20" y="242.12" font-size="4.40" text-anchor="middle" fill="#333" font-weight="normal" textLength="5.40" lengthAdjust="spacingAndGlyphs" stroke="#333" stroke-width="0.10">NS</text>
<line x1="137.70" y1="250.50" x2="146.90" y2="250.50" stroke="#161616" stroke-width="1.35" stroke-linecap="butt"/>
<text x="142.30" y="249.12" font-size="4.40" text-anchor="middle" fill="#333" font-weight="normal" textLength="5.40" lengthAdjust="spacingAndGlyphs" stroke="#333" stroke-width="0.10">NS</text>
<line x1="137.70" y1="256.50" x2="143.10" y2="256.50" stroke="#161616" stroke-width="1.35" stroke-linecap="butt"/>
<text x="140.40" y="255.12" font-size="4.40" text-anchor="middle" fill="#333" font-weight="normal" textLength="5.40" lengthAdjust="spacingAndGlyphs" stroke="#333" stroke-width="0.10">NS</text>
<line x1="156.90" y1="275.50" x2="169.80" y2="275.50" stroke="#161616" stroke-width="1.35" stroke-linecap="butt"/>
<text x="163.35" y="276.51" font-size="6.40" text-anchor="middle" fill="#1a1a1a" font-weight="normal" stroke="#1a1a1a" stroke-width="0.30">*</text>
<line x1="156.90" y1="281.50" x2="166.00" y2="281.50" stroke="#161616" stroke-width="1.35" stroke-linecap="butt"/>
<text x="161.45" y="282.51" font-size="6.40" text-anchor="middle" fill="#1a1a1a" font-weight="normal" stroke="#1a1a1a" stroke-width="0.30">*</text>
<line x1="156.90" y1="287.50" x2="161.50" y2="287.50" stroke="#161616" stroke-width="1.35" stroke-linecap="butt"/>
<text x="159.20" y="288.51" font-size="6.40" text-anchor="middle" fill="#1a1a1a" font-weight="normal" stroke="#1a1a1a" stroke-width="0.30">*</text>
<line x1="176.90" y1="281.50" x2="189.80" y2="281.50" stroke="#161616" stroke-width="1.35" stroke-linecap="butt"/>
<text x="183.35" y="280.12" font-size="4.40" text-anchor="middle" fill="#333" font-weight="normal" textLength="5.40" lengthAdjust="spacingAndGlyphs" stroke="#333" stroke-width="0.10">NS</text>
<line x1="176.90" y1="286.50" x2="186.00" y2="286.50" stroke="#161616" stroke-width="1.35" stroke-linecap="butt"/>
<text x="181.45" y="285.12" font-size="4.40" text-anchor="middle" fill="#333" font-weight="normal" textLength="5.40" lengthAdjust="spacingAndGlyphs" stroke="#333" stroke-width="0.10">NS</text>
<line x1="176.90" y1="292.50" x2="181.50" y2="292.50" stroke="#161616" stroke-width="1.35" stroke-linecap="butt"/>
<text x="179.20" y="291.12" font-size="4.40" text-anchor="middle" fill="#333" font-weight="normal" textLength="5.40" lengthAdjust="spacingAndGlyphs" stroke="#333" stroke-width="0.10">NS</text>
<rect x="181.00" y="240.30" width="7.60" height="4.30" fill="#736b7d"/>
<text x="191.30" y="244.59" font-size="6.20" text-anchor="start" fill="#222" font-weight="normal" textLength="16.50" lengthAdjust="spacingAndGlyphs" stroke="#222" stroke-width="0.22">No CK</text>
<rect x="181.00" y="247.85" width="7.60" height="4.30" fill="#a9143a"/>
<text x="191.30" y="252.14" font-size="6.20" text-anchor="start" fill="#222" font-weight="normal" textLength="16.00" lengthAdjust="spacingAndGlyphs" stroke="#222" stroke-width="0.22">TPO 5</text>
<rect x="181.00" y="255.40" width="7.60" height="4.30" fill="#2d4a89"/>
<text x="191.30" y="259.69" font-size="6.20" text-anchor="start" fill="#222" font-weight="normal" textLength="19.70" lengthAdjust="spacingAndGlyphs" stroke="#222" stroke-width="0.22">TPO 50</text>
<rect x="181.00" y="262.95" width="7.60" height="4.30" fill="#6cab4c"/>
<text x="191.30" y="267.24" font-size="6.20" text-anchor="start" fill="#222" font-weight="normal" textLength="7.60" lengthAdjust="spacingAndGlyphs" stroke="#222" stroke-width="0.22">EP</text>
<line x1="42.20" y1="318.00" x2="42.20" y2="380.70" stroke="#111" stroke-width="1.20" stroke-linecap="butt"/>
<line x1="38.70" y1="380.20" x2="115.50" y2="380.20" stroke="#111" stroke-width="1.40" stroke-linecap="butt"/>
<line x1="38.20" y1="380.20" x2="42.20" y2="380.20" stroke="#111" stroke-width="1.20" stroke-linecap="butt"/>
<text x="36.00" y="382.14" font-size="6.50" text-anchor="end" fill="#222" font-weight="normal" stroke="#222" stroke-width="0.12">0</text>
<line x1="38.20" y1="350.80" x2="42.20" y2="350.80" stroke="#111" stroke-width="1.20" stroke-linecap="butt"/>
<text x="36.00" y="352.74" font-size="6.50" text-anchor="end" fill="#222" font-weight="normal" stroke="#222" stroke-width="0.12">10</text>
<line x1="38.20" y1="321.40" x2="42.20" y2="321.40" stroke="#111" stroke-width="1.20" stroke-linecap="butt"/>
<text x="36.00" y="323.34" font-size="6.50" text-anchor="end" fill="#222" font-weight="normal" stroke="#222" stroke-width="0.12">20</text>
<text x="45.60" y="315.04" font-size="6.50" text-anchor="start" fill="#262626" font-weight="normal" textLength="25.60" lengthAdjust="spacingAndGlyphs" stroke="#262626" stroke-width="0.10">GM-CSF</text>
<rect x="44.10" y="364.03" width="3.25" height="16.17" fill="#736b7d"/>
<line x1="45.72" y1="364.03" x2="45.72" y2="360.50" stroke="#1e1e1e" stroke-width="1.15" stroke-linecap="butt"/>
<line x1="44.62" y1="360.50" x2="46.82" y2="360.50" stroke="#1e1e1e" stroke-width="1.15" stroke-linecap="butt"/>
<rect x="48.05" y="350.80" width="3.25" height="29.40" fill="#a9143a"/>
<line x1="49.67" y1="350.80" x2="49.67" y2="347.86" stroke="#1e1e1e" stroke-width="1.15" stroke-linecap="butt"/>
<line x1="48.57" y1="347.86" x2="50.77" y2="347.86" stroke="#1e1e1e" stroke-width="1.15" stroke-linecap="butt"/>
<rect x="52.00" y="344.04" width="3.25" height="36.16" fill="#2d4a89"/>
<line x1="53.62" y1="344.04" x2="53.62" y2="336.98" stroke="#1e1e1e" stroke-width="1.15" stroke-linecap="butt"/>
<line x1="52.52" y1="336.98" x2="54.72" y2="336.98" stroke="#1e1e1e" stroke-width="1.15" stroke-linecap="butt"/>
<rect x="55.95" y="341.98" width="3.25" height="38.22" fill="#6cab4c"/>
<line x1="57.57" y1="341.98" x2="57.57" y2="331.98" stroke="#1e1e1e" stroke-width="1.15" stroke-linecap="butt"/>
<line x1="56.47" y1="331.98" x2="58.67" y2="331.98" stroke="#1e1e1e" stroke-width="1.15" stroke-linecap="butt"/>
<line x1="51.30" y1="380.20" x2="51.30" y2="383.00" stroke="#111" stroke-width="1.00" stroke-linecap="butt"/>
<rect x="62.45" y="369.91" width="3.25" height="10.29" fill="#736b7d"/>
<line x1="64.07" y1="369.91" x2="64.07" y2="366.38" stroke="#1e1e1e" stroke-width="1.15" stroke-linecap="butt"/>
<line x1="62.97" y1="366.38" x2="65.17" y2="366.38" stroke="#1e1e1e" stroke-width="1.15" stroke-linecap="butt"/>
<rect x="66.40" y="351.68" width="3.25" height="28.52" fill="#a9143a"/>
<line x1="68.02" y1="351.68" x2="68.02" y2="346.10" stroke="#1e1e1e" stroke-width="1.15" stroke-linecap="butt"/>
<line x1="66.92" y1="346.10" x2="69.12" y2="346.10" stroke="#1e1e1e" stroke-width="1.15" stroke-linecap="butt"/>
<rect x="70.35" y="342.57" width="3.25" height="37.63" fill="#2d4a89"/>
<line x1="71.97" y1="342.57" x2="71.97" y2="334.34" stroke="#1e1e1e" stroke-width="1.15" stroke-linecap="butt"/>
<line x1="70.87" y1="334.34" x2="73.07" y2="334.34" stroke="#1e1e1e" stroke-width="1.15" stroke-linecap="butt"/>
<rect x="74.30" y="339.04" width="3.25" height="41.16" fill="#6cab4c"/>
<line x1="75.92" y1="339.04" x2="75.92" y2="327.28" stroke="#1e1e1e" stroke-width="1.15" stroke-linecap="butt"/>
<line x1="74.82" y1="327.28" x2="77.02" y2="327.28" stroke="#1e1e1e" stroke-width="1.15" stroke-linecap="butt"/>
<line x1="69.65" y1="380.20" x2="69.65" y2="383.00" stroke="#111" stroke-width="1.00" stroke-linecap="butt"/>
<rect x="84.75" y="365.50" width="3.25" height="14.70" fill="#a9143a"/>
<line x1="86.37" y1="365.50" x2="86.37" y2="361.38" stroke="#1e1e1e" stroke-width="1.15" stroke-linecap="butt"/>
<line x1="85.27" y1="361.38" x2="87.47" y2="361.38" stroke="#1e1e1e" stroke-width="1.15" stroke-linecap="butt"/>
<rect x="88.70" y="359.03" width="3.25" height="21.17" fill="#2d4a89"/>
<line x1="90.32" y1="359.03" x2="90.32" y2="357.27" stroke="#1e1e1e" stroke-width="1.15" stroke-linecap="butt"/>
<line x1="89.22" y1="357.27" x2="91.42" y2="357.27" stroke="#1e1e1e" stroke-width="1.15" stroke-linecap="butt"/>
<rect x="92.65" y="358.15" width="3.25" height="22.05" fill="#6cab4c"/>
<line x1="94.27" y1="358.15" x2="94.27" y2="351.09" stroke="#1e1e1e" stroke-width="1.15" stroke-linecap="butt"/>
<line x1="93.17" y1="351.09" x2="95.37" y2="351.09" stroke="#1e1e1e" stroke-width="1.15" stroke-linecap="butt"/>
<line x1="88.00" y1="380.20" x2="88.00" y2="383.00" stroke="#111" stroke-width="1.00" stroke-linecap="butt"/>
<rect x="107.05" y="347.86" width="3.25" height="32.34" fill="#2d4a89"/>
<line x1="108.67" y1="347.86" x2="108.67" y2="347.27" stroke="#1e1e1e" stroke-width="1.15" stroke-linecap="butt"/>
<line x1="107.57" y1="347.27" x2="109.77" y2="347.27" stroke="#1e1e1e" stroke-width="1.15" stroke-linecap="butt"/>
<line x1="106.35" y1="380.20" x2="106.35" y2="383.00" stroke="#111" stroke-width="1.00" stroke-linecap="butt"/>
<text x="51.30" y="392.08" font-size="6.60" text-anchor="middle" fill="#222" font-weight="normal" stroke="#222" stroke-width="0.22">1</text>
<text x="69.65" y="392.08" font-size="6.60" text-anchor="middle" fill="#222" font-weight="normal" stroke="#222" stroke-width="0.22">8</text>
<text x="88.00" y="392.08" font-size="6.60" text-anchor="middle" fill="#222" font-weight="normal" stroke="#222" stroke-width="0.22">15</text>
<text x="106.35" y="392.08" font-size="6.60" text-anchor="middle" fill="#222" font-weight="normal" stroke="#222" stroke-width="0.22">22</text>
<text x="0" y="0" font-size="9.0" fill="#222" stroke="#222" stroke-width="0.2" text-anchor="middle" transform="translate(22.9 349.20) rotate(-90)" textLength="19.8" lengthAdjust="spacingAndGlyphs">ng/ml</text>
<line x1="44.50" y1="323.50" x2="57.50" y2="323.50" stroke="#161616" stroke-width="1.35" stroke-linecap="butt"/>
<text x="51.00" y="322.12" font-size="4.40" text-anchor="middle" fill="#333" font-weight="normal" textLength="5.40" lengthAdjust="spacingAndGlyphs" stroke="#333" stroke-width="0.10">NS</text>
<line x1="44.50" y1="330.50" x2="53.70" y2="330.50" stroke="#161616" stroke-width="1.35" stroke-linecap="butt"/>
<text x="49.10" y="331.51" font-size="6.40" text-anchor="middle" fill="#1a1a1a" font-weight="normal" stroke="#1a1a1a" stroke-width="0.30">*</text>
<line x1="44.50" y1="336.50" x2="49.90" y2="336.50" stroke="#161616" stroke-width="1.35" stroke-linecap="butt"/>
<text x="47.20" y="335.12" font-size="4.40" text-anchor="middle" fill="#333" font-weight="normal" textLength="5.40" lengthAdjust="spacingAndGlyphs" stroke="#333" stroke-width="0.10">NS</text>
<line x1="62.85" y1="323.50" x2="75.85" y2="323.50" stroke="#161616" stroke-width="1.35" stroke-linecap="butt"/>
<text x="69.35" y="324.51" font-size="6.40" text-anchor="middle" fill="#1a1a1a" font-weight="normal" stroke="#1a1a1a" stroke-width="0.30">*</text>
<line x1="62.85" y1="330.50" x2="72.05" y2="330.50" stroke="#161616" stroke-width="1.35" stroke-linecap="butt"/>
<text x="67.45" y="331.51" font-size="6.40" text-anchor="middle" fill="#1a1a1a" font-weight="normal" stroke="#1a1a1a" stroke-width="0.30">*</text>
<line x1="62.85" y1="336.50" x2="68.25" y2="336.50" stroke="#161616" stroke-width="1.35" stroke-linecap="butt"/>
<text x="65.55" y="337.51" font-size="6.40" text-anchor="middle" fill="#1a1a1a" font-weight="normal" stroke="#1a1a1a" stroke-width="0.30">*</text>
<line x1="81.20" y1="323.50" x2="94.20" y2="323.50" stroke="#161616" stroke-width="1.35" stroke-linecap="butt"/>
<text x="86.10" y="324.51" font-size="6.40" text-anchor="middle" fill="#1a1a1a" font-weight="normal" stroke="#1a1a1a" stroke-width="0.30">*</text>
<text x="89.30" y="324.51" font-size="6.40" text-anchor="middle" fill="#1a1a1a" font-weight="normal" stroke="#1a1a1a" stroke-width="0.30">*</text>
<line x1="81.20" y1="330.50" x2="90.40" y2="330.50" stroke="#161616" stroke-width="1.35" stroke-linecap="butt"/>
<text x="84.20" y="331.51" font-size="6.40" text-anchor="middle" fill="#1a1a1a" font-weight="normal" stroke="#1a1a1a" stroke-width="0.30">*</text>
<text x="87.40" y="331.51" font-size="6.40" text-anchor="middle" fill="#1a1a1a" font-weight="normal" stroke="#1a1a1a" stroke-width="0.30">*</text>
<line x1="81.20" y1="336.50" x2="86.60" y2="336.50" stroke="#161616" stroke-width="1.35" stroke-linecap="butt"/>
<text x="82.30" y="337.51" font-size="6.40" text-anchor="middle" fill="#1a1a1a" font-weight="normal" stroke="#1a1a1a" stroke-width="0.30">*</text>
<text x="85.50" y="337.51" font-size="6.40" text-anchor="middle" fill="#1a1a1a" font-weight="normal" stroke="#1a1a1a" stroke-width="0.30">*</text>
<text x="80.80" y="404.11" font-size="9.00" text-anchor="start" fill="#222" font-weight="normal" textLength="62.00" lengthAdjust="spacingAndGlyphs" stroke="#222" stroke-width="0.22">Days of co-culture</text>
<line x1="135.40" y1="318.00" x2="135.40" y2="380.70" stroke="#111" stroke-width="1.20" stroke-linecap="butt"/>
<line x1="131.90" y1="380.20" x2="209.20" y2="380.20" stroke="#111" stroke-width="1.40" stroke-linecap="butt"/>
<line x1="131.40" y1="380.20" x2="135.40" y2="380.20" stroke="#111" stroke-width="1.20" stroke-linecap="butt"/>
<text x="129.20" y="382.14" font-size="6.50" text-anchor="end" fill="#222" font-weight="normal" stroke="#222" stroke-width="0.12">0</text>
<line x1="131.40" y1="360.80" x2="135.40" y2="360.80" stroke="#111" stroke-width="1.20" stroke-linecap="butt"/>
<text x="129.20" y="362.74" font-size="6.50" text-anchor="end" fill="#222" font-weight="normal" stroke="#222" stroke-width="0.12">1</text>
<line x1="131.40" y1="341.40" x2="135.40" y2="341.40" stroke="#111" stroke-width="1.20" stroke-linecap="butt"/>
<text x="129.20" y="343.34" font-size="6.50" text-anchor="end" fill="#222" font-weight="normal" stroke="#222" stroke-width="0.12">2</text>
<line x1="131.40" y1="322.00" x2="135.40" y2="322.00" stroke="#111" stroke-width="1.20" stroke-linecap="butt"/>
<text x="129.20" y="323.94" font-size="6.50" text-anchor="end" fill="#222" font-weight="normal" stroke="#222" stroke-width="0.12">3</text>
<text x="139.40" y="315.24" font-size="6.50" text-anchor="start" fill="#262626" font-weight="normal" textLength="11.20" lengthAdjust="spacingAndGlyphs" stroke="#262626" stroke-width="0.10">IL-6</text>
<rect x="137.30" y="378.65" width="3.25" height="1.55" fill="#736b7d"/>
<rect x="141.25" y="376.32" width="3.25" height="3.88" fill="#a9143a"/>
<line x1="142.87" y1="376.32" x2="142.87" y2="375.35" stroke="#1e1e1e" stroke-width="1.15" stroke-linecap="butt"/>
<line x1="141.77" y1="375.35" x2="143.97" y2="375.35" stroke="#1e1e1e" stroke-width="1.15" stroke-linecap="butt"/>
<rect x="145.20" y="377.29" width="3.25" height="2.91" fill="#2d4a89"/>
<rect x="149.15" y="378.26" width="3.25" height="1.94" fill="#6cab4c"/>
<line x1="144.50" y1="380.20" x2="144.50" y2="383.00" stroke="#111" stroke-width="1.00" stroke-linecap="butt"/>
<rect x="155.65" y="379.23" width="3.25" height="0.97" fill="#736b7d"/>
<rect x="159.60" y="379.23" width="3.25" height="0.97" fill="#a9143a"/>
<rect x="163.55" y="377.29" width="3.25" height="2.91" fill="#2d4a89"/>
<rect x="167.50" y="378.65" width="3.25" height="1.55" fill="#6cab4c"/>
<line x1="162.85" y1="380.20" x2="162.85" y2="383.00" stroke="#111" stroke-width="1.00" stroke-linecap="butt"/>
<rect x="174.00" y="379.62" width="3.25" height="0.58" fill="#736b7d"/>
<rect x="177.95" y="379.62" width="3.25" height="0.58" fill="#a9143a"/>
<rect x="181.90" y="378.65" width="3.25" height="1.55" fill="#2d4a89"/>
<rect x="185.85" y="379.62" width="3.25" height="0.58" fill="#6cab4c"/>
<line x1="181.20" y1="380.20" x2="181.20" y2="383.00" stroke="#111" stroke-width="1.00" stroke-linecap="butt"/>
<rect x="200.25" y="379.42" width="3.25" height="0.78" fill="#2d4a89"/>
<line x1="199.55" y1="380.20" x2="199.55" y2="383.00" stroke="#111" stroke-width="1.00" stroke-linecap="butt"/>
<text x="144.50" y="392.08" font-size="6.60" text-anchor="middle" fill="#222" font-weight="normal" stroke="#222" stroke-width="0.22">1</text>
<text x="162.85" y="392.08" font-size="6.60" text-anchor="middle" fill="#222" font-weight="normal" stroke="#222" stroke-width="0.22">8</text>
<text x="181.20" y="392.08" font-size="6.60" text-anchor="middle" fill="#222" font-weight="normal" stroke="#222" stroke-width="0.22">15</text>
<text x="199.55" y="392.08" font-size="6.60" text-anchor="middle" fill="#222" font-weight="normal" stroke="#222" stroke-width="0.22">22</text>
<line x1="137.70" y1="359.50" x2="150.70" y2="359.50" stroke="#161616" stroke-width="1.35" stroke-linecap="butt"/>
<text x="144.20" y="358.12" font-size="4.40" text-anchor="middle" fill="#333" font-weight="normal" textLength="5.40" lengthAdjust="spacingAndGlyphs" stroke="#333" stroke-width="0.10">NS</text>
<line x1="137.70" y1="364.50" x2="146.90" y2="364.50" stroke="#161616" stroke-width="1.35" stroke-linecap="butt"/>
<text x="140.70" y="365.51" font-size="6.40" text-anchor="middle" fill="#1a1a1a" font-weight="normal" stroke="#1a1a1a" stroke-width="0.30">*</text>
<text x="143.90" y="365.51" font-size="6.40" text-anchor="middle" fill="#1a1a1a" font-weight="normal" stroke="#1a1a1a" stroke-width="0.30">*</text>
<line x1="137.70" y1="370.50" x2="143.10" y2="370.50" stroke="#161616" stroke-width="1.35" stroke-linecap="butt"/>
<text x="138.80" y="371.51" font-size="6.40" text-anchor="middle" fill="#1a1a1a" font-weight="normal" stroke="#1a1a1a" stroke-width="0.30">*</text>
<text x="142.00" y="371.51" font-size="6.40" text-anchor="middle" fill="#1a1a1a" font-weight="normal" stroke="#1a1a1a" stroke-width="0.30">*</text>
<line x1="156.05" y1="359.50" x2="169.05" y2="359.50" stroke="#161616" stroke-width="1.35" stroke-linecap="butt"/>
<text x="162.55" y="358.12" font-size="4.40" text-anchor="middle" fill="#333" font-weight="normal" textLength="5.40" lengthAdjust="spacingAndGlyphs" stroke="#333" stroke-width="0.10">NS</text>
<line x1="156.05" y1="364.50" x2="165.25" y2="364.50" stroke="#161616" stroke-width="1.35" stroke-linecap="butt"/>
<text x="160.65" y="365.51" font-size="6.40" text-anchor="middle" fill="#1a1a1a" font-weight="normal" stroke="#1a1a1a" stroke-width="0.30">*</text>
<line x1="156.05" y1="370.50" x2="161.45" y2="370.50" stroke="#161616" stroke-width="1.35" stroke-linecap="butt"/>
<text x="158.75" y="369.12" font-size="4.40" text-anchor="middle" fill="#333" font-weight="normal" textLength="5.40" lengthAdjust="spacingAndGlyphs" stroke="#333" stroke-width="0.10">NS</text>
<line x1="174.40" y1="359.50" x2="187.40" y2="359.50" stroke="#161616" stroke-width="1.35" stroke-linecap="butt"/>
<text x="180.90" y="360.51" font-size="6.40" text-anchor="middle" fill="#1a1a1a" font-weight="normal" stroke="#1a1a1a" stroke-width="0.30">*</text>
<line x1="174.40" y1="364.50" x2="183.60" y2="364.50" stroke="#161616" stroke-width="1.35" stroke-linecap="butt"/>
<text x="179.00" y="363.12" font-size="4.40" text-anchor="middle" fill="#333" font-weight="normal" textLength="5.40" lengthAdjust="spacingAndGlyphs" stroke="#333" stroke-width="0.10">NS</text>
<line x1="174.40" y1="370.50" x2="179.80" y2="370.50" stroke="#161616" stroke-width="1.35" stroke-linecap="butt"/>
<text x="177.10" y="369.12" font-size="4.40" text-anchor="middle" fill="#333" font-weight="normal" textLength="5.40" lengthAdjust="spacingAndGlyphs" stroke="#333" stroke-width="0.10">NS</text>
<line x1="264.00" y1="158.80" x2="264.00" y2="225.80" stroke="#111" stroke-width="1.50" stroke-linecap="butt"/>
<line x1="261.00" y1="225.30" x2="361.50" y2="225.30" stroke="#111" stroke-width="1.50" stroke-linecap="butt"/>
<line x1="260.20" y1="225.30" x2="264.00" y2="225.30" stroke="#111" stroke-width="1.30" stroke-linecap="butt"/>
<text x="257.00" y="227.74" font-size="6.50" text-anchor="end" fill="#222" font-weight="normal" stroke="#222" stroke-width="0.12">0</text>
<line x1="260.20" y1="209.38" x2="264.00" y2="209.38" stroke="#111" stroke-width="1.30" stroke-linecap="butt"/>
<text x="257.00" y="211.82" font-size="6.50" text-anchor="end" fill="#222" font-weight="normal" stroke="#222" stroke-width="0.12">25</text>
<line x1="260.20" y1="193.45" x2="264.00" y2="193.45" stroke="#111" stroke-width="1.30" stroke-linecap="butt"/>
<text x="257.00" y="195.89" font-size="6.50" text-anchor="end" fill="#222" font-weight="normal" stroke="#222" stroke-width="0.12">50</text>
<line x1="260.20" y1="177.53" x2="264.00" y2="177.53" stroke="#111" stroke-width="1.30" stroke-linecap="butt"/>
<text x="257.00" y="179.97" font-size="6.50" text-anchor="end" fill="#222" font-weight="normal" stroke="#222" stroke-width="0.12">75</text>
<line x1="260.20" y1="161.60" x2="264.00" y2="161.60" stroke="#111" stroke-width="1.30" stroke-linecap="butt"/>
<text x="257.00" y="164.04" font-size="6.50" text-anchor="end" fill="#222" font-weight="normal" stroke="#222" stroke-width="0.12">100</text>
<line x1="269.40" y1="225.30" x2="269.40" y2="228.80" stroke="#111" stroke-width="1.30" stroke-linecap="butt"/>
<line x1="280.08" y1="225.30" x2="280.08" y2="228.80" stroke="#111" stroke-width="1.30" stroke-linecap="butt"/>
<line x1="290.76" y1="225.30" x2="290.76" y2="228.80" stroke="#111" stroke-width="1.30" stroke-linecap="butt"/>
<line x1="301.44" y1="225.30" x2="301.44" y2="228.80" stroke="#111" stroke-width="1.30" stroke-linecap="butt"/>
<line x1="312.12" y1="225.30" x2="312.12" y2="228.80" stroke="#111" stroke-width="1.30" stroke-linecap="butt"/>
<line x1="322.80" y1="225.30" x2="322.80" y2="228.80" stroke="#111" stroke-width="1.30" stroke-linecap="butt"/>
<line x1="333.48" y1="225.30" x2="333.48" y2="228.80" stroke="#111" stroke-width="1.30" stroke-linecap="butt"/>
<line x1="344.16" y1="225.30" x2="344.16" y2="228.80" stroke="#111" stroke-width="1.30" stroke-linecap="butt"/>
<line x1="354.84" y1="225.30" x2="354.84" y2="228.80" stroke="#111" stroke-width="1.30" stroke-linecap="butt"/>
<text x="268.70" y="153.90" font-size="8.40" text-anchor="start" fill="#222" font-weight="normal" textLength="86.60" lengthAdjust="spacingAndGlyphs" stroke="#222" stroke-width="0.22">Naïve: CD45RO-CD62L+</text>
<polyline points="269.40,191.00 280.08,218.00 290.76,207.00" fill="none" stroke="#d18b3c" stroke-width="1.34" stroke-linejoin="round" stroke-dasharray="1.4,1"/>
<circle cx="269.40" cy="191.00" r="1.15" fill="#d18b3c"/>
<circle cx="280.08" cy="218.00" r="1.15" fill="#d18b3c"/>
<circle cx="290.76" cy="207.00" r="1.15" fill="#d18b3c"/>
<polyline points="269.40,191.50 280.08,219.50 290.76,222.50 301.44,222.00 312.12,224.00 322.80,225.00 333.48,225.00" fill="none" stroke="#6cae4a" stroke-width="1.59" stroke-linejoin="round"/>
<circle cx="269.40" cy="191.50" r="1.15" fill="#6cae4a"/>
<circle cx="280.08" cy="219.50" r="1.15" fill="#6cae4a"/>
<circle cx="290.76" cy="222.50" r="1.15" fill="#6cae4a"/>
<circle cx="301.44" cy="222.00" r="1.15" fill="#6cae4a"/>
<circle cx="312.12" cy="224.00" r="1.15" fill="#6cae4a"/>
<circle cx="322.80" cy="225.00" r="1.15" fill="#6cae4a"/>
<circle cx="333.48" cy="225.00" r="1.15" fill="#6cae4a"/>
<polyline points="269.40,188.00 280.08,219.00 290.76,220.70 301.44,218.60 312.12,220.70 322.80,219.20 333.48,224.70 344.16,225.00 354.84,224.00" fill="none" stroke="#a6163a" stroke-width="1.59" stroke-linejoin="round"/>
<circle cx="269.40" cy="188.00" r="1.15" fill="#a6163a"/>
<circle cx="280.08" cy="219.00" r="1.15" fill="#a6163a"/>
<circle cx="290.76" cy="220.70" r="1.15" fill="#a6163a"/>
<circle cx="301.44" cy="218.60" r="1.15" fill="#a6163a"/>
<circle cx="312.12" cy="220.70" r="1.15" fill="#a6163a"/>
<circle cx="322.80" cy="219.20" r="1.15" fill="#a6163a"/>
<circle cx="333.48" cy="224.70" r="1.15" fill="#a6163a"/>
<circle cx="344.16" cy="225.00" r="1.15" fill="#a6163a"/>
<circle cx="354.84" cy="224.00" r="1.15" fill="#a6163a"/>
<polyline points="269.40,186.00 280.08,215.60 290.76,211.60 301.44,209.50 312.12,208.50 322.80,207.10 333.48,210.60 344.16,212.60 354.84,208.00" fill="none" stroke="#2b4a82" stroke-width="1.59" stroke-linejoin="round"/>
<circle cx="269.40" cy="186.00" r="1.15" fill="#2b4a82"/>
<circle cx="280.08" cy="215.60" r="1.15" fill="#2b4a82"/>
<circle cx="290.76" cy="211.60" r="1.15" fill="#2b4a82"/>
<circle cx="301.44" cy="209.50" r="1.15" fill="#2b4a82"/>
<circle cx="312.12" cy="208.50" r="1.15" fill="#2b4a82"/>
<circle cx="322.80" cy="207.10" r="1.15" fill="#2b4a82"/>
<circle cx="333.48" cy="210.60" r="1.15" fill="#2b4a82"/>
<circle cx="344.16" cy="212.60" r="1.15" fill="#2b4a82"/>
<circle cx="354.84" cy="208.00" r="1.15" fill="#2b4a82"/>
<polyline points="269.40,181.30 280.08,214.00 290.76,203.50 301.44,209.50 312.12,214.60 322.80,209.50 333.48,214.60 344.16,215.60 354.84,215.20" fill="none" stroke="#4a2a66" stroke-width="1.83" stroke-linejoin="round"/>
<circle cx="269.40" cy="181.30" r="1.15" fill="#4a2a66"/>
<circle cx="280.08" cy="214.00" r="1.15" fill="#4a2a66"/>
<circle cx="290.76" cy="203.50" r="1.15" fill="#4a2a66"/>
<circle cx="301.44" cy="209.50" r="1.15" fill="#4a2a66"/>
<circle cx="312.12" cy="214.60" r="1.15" fill="#4a2a66"/>
<circle cx="322.80" cy="209.50" r="1.15" fill="#4a2a66"/>
<circle cx="333.48" cy="214.60" r="1.15" fill="#4a2a66"/>
<circle cx="344.16" cy="215.60" r="1.15" fill="#4a2a66"/>
<circle cx="354.84" cy="215.20" r="1.15" fill="#4a2a66"/>
<polyline points="269.40,184.00 280.08,213.00 290.76,200.50 301.44,208.50 312.12,212.00 322.80,208.50 333.48,217.60 344.16,221.70 354.84,218.60" fill="none" stroke="#2c2858" stroke-width="1.46" stroke-linejoin="round" stroke-dasharray="1.5,1"/>
<circle cx="269.40" cy="184.00" r="1.15" fill="#2c2858"/>
<circle cx="280.08" cy="213.00" r="1.15" fill="#2c2858"/>
<circle cx="290.76" cy="200.50" r="1.15" fill="#2c2858"/>
<circle cx="301.44" cy="208.50" r="1.15" fill="#2c2858"/>
<circle cx="312.12" cy="212.00" r="1.15" fill="#2c2858"/>
<circle cx="322.80" cy="208.50" r="1.15" fill="#2c2858"/>
<circle cx="333.48" cy="217.60" r="1.15" fill="#2c2858"/>
<circle cx="344.16" cy="221.70" r="1.15" fill="#2c2858"/>
<circle cx="354.84" cy="218.60" r="1.15" fill="#2c2858"/>
<line x1="269.40" y1="181.00" x2="269.40" y2="172.00" stroke="#4a2a66" stroke-width="0.90" stroke-linecap="butt"/>
<line x1="268.20" y1="172.00" x2="270.60" y2="172.00" stroke="#4a2a66" stroke-width="0.90" stroke-linecap="butt"/>
<line x1="269.40" y1="186.00" x2="269.40" y2="172.00" stroke="#4a2a66" stroke-width="0.90" stroke-linecap="butt"/>
<line x1="268.20" y1="172.00" x2="270.60" y2="172.00" stroke="#4a2a66" stroke-width="0.90" stroke-linecap="butt"/>
<line x1="280.08" y1="214.00" x2="280.08" y2="207.00" stroke="#4a2a66" stroke-width="0.90" stroke-linecap="butt"/>
<line x1="278.88" y1="207.00" x2="281.28" y2="207.00" stroke="#4a2a66" stroke-width="0.90" stroke-linecap="butt"/>
<line x1="290.76" y1="203.50" x2="290.76" y2="185.30" stroke="#4a2a66" stroke-width="0.90" stroke-linecap="butt"/>
<line x1="289.56" y1="185.30" x2="291.96" y2="185.30" stroke="#4a2a66" stroke-width="0.90" stroke-linecap="butt"/>
<line x1="301.44" y1="209.50" x2="301.44" y2="192.40" stroke="#4a2a66" stroke-width="0.90" stroke-linecap="butt"/>
<line x1="300.24" y1="192.40" x2="302.64" y2="192.40" stroke="#4a2a66" stroke-width="0.90" stroke-linecap="butt"/>
<line x1="312.12" y1="208.50" x2="312.12" y2="189.00" stroke="#4a2a66" stroke-width="0.90" stroke-linecap="butt"/>
<line x1="310.92" y1="189.00" x2="313.32" y2="189.00" stroke="#4a2a66" stroke-width="0.90" stroke-linecap="butt"/>
<line x1="322.80" y1="207.00" x2="322.80" y2="185.30" stroke="#4a2a66" stroke-width="0.90" stroke-linecap="butt"/>
<line x1="321.60" y1="185.30" x2="324.00" y2="185.30" stroke="#4a2a66" stroke-width="0.90" stroke-linecap="butt"/>
<line x1="333.48" y1="210.60" x2="333.48" y2="191.40" stroke="#4a2a66" stroke-width="0.90" stroke-linecap="butt"/>
<line x1="332.28" y1="191.40" x2="334.68" y2="191.40" stroke="#4a2a66" stroke-width="0.90" stroke-linecap="butt"/>
<line x1="344.16" y1="212.60" x2="344.16" y2="192.00" stroke="#4a2a66" stroke-width="0.90" stroke-linecap="butt"/>
<line x1="342.96" y1="192.00" x2="345.36" y2="192.00" stroke="#4a2a66" stroke-width="0.90" stroke-linecap="butt"/>
<line x1="354.84" y1="208.00" x2="354.84" y2="187.00" stroke="#4a2a66" stroke-width="0.90" stroke-linecap="butt"/>
<line x1="353.64" y1="187.00" x2="356.04" y2="187.00" stroke="#4a2a66" stroke-width="0.90" stroke-linecap="butt"/>
<line x1="290.76" y1="211.60" x2="290.76" y2="195.00" stroke="#4a2a66" stroke-width="0.90" stroke-linecap="butt"/>
<line x1="289.56" y1="195.00" x2="291.96" y2="195.00" stroke="#4a2a66" stroke-width="0.90" stroke-linecap="butt"/>
<line x1="312.12" y1="214.00" x2="312.12" y2="199.00" stroke="#4a2a66" stroke-width="0.90" stroke-linecap="butt"/>
<line x1="310.92" y1="199.00" x2="313.32" y2="199.00" stroke="#4a2a66" stroke-width="0.90" stroke-linecap="butt"/>
<text x="0" y="0" font-size="9.0" fill="#222" stroke="#222" stroke-width="0.2" text-anchor="middle" transform="translate(241.2 192.00) rotate(-90)" textLength="53" lengthAdjust="spacingAndGlyphs">% positive cells</text>
<line x1="272.20" y1="190.00" x2="272.20" y2="172.00" stroke="#4a2a66" stroke-width="1.00" stroke-linecap="butt"/>
<line x1="270.90" y1="172.00" x2="273.50" y2="172.00" stroke="#4a2a66" stroke-width="1.00" stroke-linecap="butt"/>
<line x1="270.00" y1="195.00" x2="270.00" y2="171.90" stroke="#5a3a6a" stroke-width="1.00" stroke-linecap="butt"/>
<line x1="268.70" y1="171.90" x2="271.30" y2="171.90" stroke="#5a3a6a" stroke-width="1.00" stroke-linecap="butt"/>
<line x1="269.00" y1="176.00" x2="269.00" y2="195.00" stroke="#5a2a6a" stroke-width="2.20" stroke-linecap="butt"/>
<line x1="369.50" y1="158.60" x2="369.50" y2="225.60" stroke="#111" stroke-width="1.50" stroke-linecap="butt"/>
<line x1="366.50" y1="225.10" x2="467.00" y2="225.10" stroke="#111" stroke-width="1.50" stroke-linecap="butt"/>
<line x1="365.70" y1="225.10" x2="369.50" y2="225.10" stroke="#111" stroke-width="1.30" stroke-linecap="butt"/>
<line x1="365.70" y1="209.17" x2="369.50" y2="209.17" stroke="#111" stroke-width="1.30" stroke-linecap="butt"/>
<line x1="365.70" y1="193.25" x2="369.50" y2="193.25" stroke="#111" stroke-width="1.30" stroke-linecap="butt"/>
<line x1="365.70" y1="177.32" x2="369.50" y2="177.32" stroke="#111" stroke-width="1.30" stroke-linecap="butt"/>
<line x1="365.70" y1="161.40" x2="369.50" y2="161.40" stroke="#111" stroke-width="1.30" stroke-linecap="butt"/>
<line x1="374.90" y1="225.10" x2="374.90" y2="228.60" stroke="#111" stroke-width="1.30" stroke-linecap="butt"/>
<line x1="385.58" y1="225.10" x2="385.58" y2="228.60" stroke="#111" stroke-width="1.30" stroke-linecap="butt"/>
<line x1="396.26" y1="225.10" x2="396.26" y2="228.60" stroke="#111" stroke-width="1.30" stroke-linecap="butt"/>
<line x1="406.94" y1="225.10" x2="406.94" y2="228.60" stroke="#111" stroke-width="1.30" stroke-linecap="butt"/>
<line x1="417.62" y1="225.10" x2="417.62" y2="228.60" stroke="#111" stroke-width="1.30" stroke-linecap="butt"/>
<line x1="428.30" y1="225.10" x2="428.30" y2="228.60" stroke="#111" stroke-width="1.30" stroke-linecap="butt"/>
<line x1="438.98" y1="225.10" x2="438.98" y2="228.60" stroke="#111" stroke-width="1.30" stroke-linecap="butt"/>
<line x1="449.66" y1="225.10" x2="449.66" y2="228.60" stroke="#111" stroke-width="1.30" stroke-linecap="butt"/>
<line x1="460.34" y1="225.10" x2="460.34" y2="228.60" stroke="#111" stroke-width="1.30" stroke-linecap="butt"/>
<text x="377.30" y="153.90" font-size="8.40" text-anchor="start" fill="#222" font-weight="normal" textLength="80.20" lengthAdjust="spacingAndGlyphs" stroke="#222" stroke-width="0.22">CM: CD45RO+CD62L+</text>
<polyline points="374.90,207.00 385.58,184.00 396.26,205.00 406.94,202.00 417.62,196.00 428.30,196.00 438.98,200.00" fill="none" stroke="#d18b3c" stroke-width="1.34" stroke-linejoin="round" stroke-dasharray="1.4,1"/>
<circle cx="374.90" cy="207.00" r="1.15" fill="#d18b3c"/>
<circle cx="385.58" cy="184.00" r="1.15" fill="#d18b3c"/>
<circle cx="396.26" cy="205.00" r="1.15" fill="#d18b3c"/>
<circle cx="406.94" cy="202.00" r="1.15" fill="#d18b3c"/>
<circle cx="417.62" cy="196.00" r="1.15" fill="#d18b3c"/>
<circle cx="428.30" cy="196.00" r="1.15" fill="#d18b3c"/>
<circle cx="438.98" cy="200.00" r="1.15" fill="#d18b3c"/>
<polyline points="374.90,204.00 385.58,175.80 396.26,181.60 406.94,182.70 417.62,194.30 428.30,199.00 438.98,212.70" fill="none" stroke="#6cae4a" stroke-width="1.59" stroke-linejoin="round"/>
<circle cx="374.90" cy="204.00" r="1.15" fill="#6cae4a"/>
<circle cx="385.58" cy="175.80" r="1.15" fill="#6cae4a"/>
<circle cx="396.26" cy="181.60" r="1.15" fill="#6cae4a"/>
<circle cx="406.94" cy="182.70" r="1.15" fill="#6cae4a"/>
<circle cx="417.62" cy="194.30" r="1.15" fill="#6cae4a"/>
<circle cx="428.30" cy="199.00" r="1.15" fill="#6cae4a"/>
<circle cx="438.98" cy="212.70" r="1.15" fill="#6cae4a"/>
<polyline points="374.90,207.00 385.58,182.70 396.26,187.30 406.94,188.00 417.62,195.40 428.30,201.20 438.98,208.80 449.66,215.00" fill="none" stroke="#a6163a" stroke-width="1.59" stroke-linejoin="round"/>
<circle cx="374.90" cy="207.00" r="1.15" fill="#a6163a"/>
<circle cx="385.58" cy="182.70" r="1.15" fill="#a6163a"/>
<circle cx="396.26" cy="187.30" r="1.15" fill="#a6163a"/>
<circle cx="406.94" cy="188.00" r="1.15" fill="#a6163a"/>
<circle cx="417.62" cy="195.40" r="1.15" fill="#a6163a"/>
<circle cx="428.30" cy="201.20" r="1.15" fill="#a6163a"/>
<circle cx="438.98" cy="208.80" r="1.15" fill="#a6163a"/>
<circle cx="449.66" cy="215.00" r="1.15" fill="#a6163a"/>
<polyline points="374.90,205.00 385.58,179.30 396.26,189.65 406.94,192.00 417.62,195.00 428.30,199.60 438.98,200.50 449.66,202.00 460.34,196.60" fill="none" stroke="#2b4a82" stroke-width="1.59" stroke-linejoin="round"/>
<circle cx="374.90" cy="205.00" r="1.15" fill="#2b4a82"/>
<circle cx="385.58" cy="179.30" r="1.15" fill="#2b4a82"/>
<circle cx="396.26" cy="189.65" r="1.15" fill="#2b4a82"/>
<circle cx="406.94" cy="192.00" r="1.15" fill="#2b4a82"/>
<circle cx="417.62" cy="195.00" r="1.15" fill="#2b4a82"/>
<circle cx="428.30" cy="199.60" r="1.15" fill="#2b4a82"/>
<circle cx="438.98" cy="200.50" r="1.15" fill="#2b4a82"/>
<circle cx="449.66" cy="202.00" r="1.15" fill="#2b4a82"/>
<circle cx="460.34" cy="196.60" r="1.15" fill="#2b4a82"/>
<polyline points="374.90,209.00 385.58,185.00 396.26,204.70 406.94,202.40 417.62,196.00 428.30,197.80 438.98,197.00 449.66,196.60 460.34,195.40" fill="none" stroke="#4a2a66" stroke-width="1.83" stroke-linejoin="round"/>
<circle cx="374.90" cy="209.00" r="1.15" fill="#4a2a66"/>
<circle cx="385.58" cy="185.00" r="1.15" fill="#4a2a66"/>
<circle cx="396.26" cy="204.70" r="1.15" fill="#4a2a66"/>
<circle cx="406.94" cy="202.40" r="1.15" fill="#4a2a66"/>
<circle cx="417.62" cy="196.00" r="1.15" fill="#4a2a66"/>
<circle cx="428.30" cy="197.80" r="1.15" fill="#4a2a66"/>
<circle cx="438.98" cy="197.00" r="1.15" fill="#4a2a66"/>
<circle cx="449.66" cy="196.60" r="1.15" fill="#4a2a66"/>
<circle cx="460.34" cy="195.40" r="1.15" fill="#4a2a66"/>
<polyline points="374.90,210.00 385.58,186.20 396.26,209.30 406.94,203.00 417.62,196.00 428.30,192.00 438.98,193.00 449.66,208.00 460.34,189.65" fill="none" stroke="#2c2858" stroke-width="1.46" stroke-linejoin="round" stroke-dasharray="1.5,1"/>
<circle cx="374.90" cy="210.00" r="1.15" fill="#2c2858"/>
<circle cx="385.58" cy="186.20" r="1.15" fill="#2c2858"/>
<circle cx="396.26" cy="209.30" r="1.15" fill="#2c2858"/>
<circle cx="406.94" cy="203.00" r="1.15" fill="#2c2858"/>
<circle cx="417.62" cy="196.00" r="1.15" fill="#2c2858"/>
<circle cx="428.30" cy="192.00" r="1.15" fill="#2c2858"/>
<circle cx="438.98" cy="193.00" r="1.15" fill="#2c2858"/>
<circle cx="449.66" cy="208.00" r="1.15" fill="#2c2858"/>
<circle cx="460.34" cy="189.65" r="1.15" fill="#2c2858"/>
<line x1="374.90" y1="206.00" x2="374.90" y2="200.00" stroke="#4a2a66" stroke-width="0.90" stroke-linecap="butt"/>
<line x1="373.70" y1="200.00" x2="376.10" y2="200.00" stroke="#4a2a66" stroke-width="0.90" stroke-linecap="butt"/>
<line x1="385.58" y1="176.00" x2="385.58" y2="170.00" stroke="#4a2a66" stroke-width="0.90" stroke-linecap="butt"/>
<line x1="384.38" y1="170.00" x2="386.78" y2="170.00" stroke="#4a2a66" stroke-width="0.90" stroke-linecap="butt"/>
<line x1="396.26" y1="181.60" x2="396.26" y2="177.50" stroke="#4a2a66" stroke-width="0.90" stroke-linecap="butt"/>
<line x1="395.06" y1="177.50" x2="397.46" y2="177.50" stroke="#4a2a66" stroke-width="0.90" stroke-linecap="butt"/>
<line x1="406.94" y1="182.70" x2="406.94" y2="177.50" stroke="#4a2a66" stroke-width="0.90" stroke-linecap="butt"/>
<line x1="405.74" y1="177.50" x2="408.14" y2="177.50" stroke="#4a2a66" stroke-width="0.90" stroke-linecap="butt"/>
<line x1="417.62" y1="195.00" x2="417.62" y2="182.00" stroke="#4a2a66" stroke-width="0.90" stroke-linecap="butt"/>
<line x1="416.42" y1="182.00" x2="418.82" y2="182.00" stroke="#4a2a66" stroke-width="0.90" stroke-linecap="butt"/>
<line x1="428.30" y1="192.00" x2="428.30" y2="182.50" stroke="#4a2a66" stroke-width="0.90" stroke-linecap="butt"/>
<line x1="427.10" y1="182.50" x2="429.50" y2="182.50" stroke="#4a2a66" stroke-width="0.90" stroke-linecap="butt"/>
<line x1="438.98" y1="193.00" x2="438.98" y2="186.00" stroke="#4a2a66" stroke-width="0.90" stroke-linecap="butt"/>
<line x1="437.78" y1="186.00" x2="440.18" y2="186.00" stroke="#4a2a66" stroke-width="0.90" stroke-linecap="butt"/>
<line x1="449.66" y1="196.60" x2="449.66" y2="185.00" stroke="#4a2a66" stroke-width="0.90" stroke-linecap="butt"/>
<line x1="448.46" y1="185.00" x2="450.86" y2="185.00" stroke="#4a2a66" stroke-width="0.90" stroke-linecap="butt"/>
<line x1="460.34" y1="189.60" x2="460.34" y2="178.50" stroke="#4a2a66" stroke-width="0.90" stroke-linecap="butt"/>
<line x1="459.14" y1="178.50" x2="461.54" y2="178.50" stroke="#4a2a66" stroke-width="0.90" stroke-linecap="butt"/>
<line x1="377.00" y1="210.00" x2="377.00" y2="197.70" stroke="#4a2a66" stroke-width="1.00" stroke-linecap="butt"/>
<line x1="375.80" y1="197.70" x2="378.20" y2="197.70" stroke="#4a2a66" stroke-width="1.00" stroke-linecap="butt"/>
<line x1="374.80" y1="210.00" x2="374.80" y2="199.00" stroke="#5a3a6a" stroke-width="1.00" stroke-linecap="butt"/>
<line x1="373.60" y1="199.00" x2="376.00" y2="199.00" stroke="#5a3a6a" stroke-width="1.00" stroke-linecap="butt"/>
<line x1="263.50" y1="250.80" x2="263.50" y2="317.80" stroke="#111" stroke-width="1.50" stroke-linecap="butt"/>
<line x1="260.50" y1="317.30" x2="361.00" y2="317.30" stroke="#111" stroke-width="1.50" stroke-linecap="butt"/>
<line x1="259.70" y1="317.30" x2="263.50" y2="317.30" stroke="#111" stroke-width="1.30" stroke-linecap="butt"/>
<text x="256.50" y="319.74" font-size="6.50" text-anchor="end" fill="#222" font-weight="normal" stroke="#222" stroke-width="0.12">0</text>
<line x1="259.70" y1="301.38" x2="263.50" y2="301.38" stroke="#111" stroke-width="1.30" stroke-linecap="butt"/>
<text x="256.50" y="303.82" font-size="6.50" text-anchor="end" fill="#222" font-weight="normal" stroke="#222" stroke-width="0.12">25</text>
<line x1="259.70" y1="285.45" x2="263.50" y2="285.45" stroke="#111" stroke-width="1.30" stroke-linecap="butt"/>
<text x="256.50" y="287.89" font-size="6.50" text-anchor="end" fill="#222" font-weight="normal" stroke="#222" stroke-width="0.12">50</text>
<line x1="259.70" y1="269.53" x2="263.50" y2="269.53" stroke="#111" stroke-width="1.30" stroke-linecap="butt"/>
<text x="256.50" y="271.97" font-size="6.50" text-anchor="end" fill="#222" font-weight="normal" stroke="#222" stroke-width="0.12">75</text>
<line x1="259.70" y1="253.60" x2="263.50" y2="253.60" stroke="#111" stroke-width="1.30" stroke-linecap="butt"/>
<text x="256.50" y="256.04" font-size="6.50" text-anchor="end" fill="#222" font-weight="normal" stroke="#222" stroke-width="0.12">100</text>
<line x1="268.90" y1="317.30" x2="268.90" y2="320.80" stroke="#111" stroke-width="1.30" stroke-linecap="butt"/>
<line x1="279.58" y1="317.30" x2="279.58" y2="320.80" stroke="#111" stroke-width="1.30" stroke-linecap="butt"/>
<line x1="290.26" y1="317.30" x2="290.26" y2="320.80" stroke="#111" stroke-width="1.30" stroke-linecap="butt"/>
<line x1="300.94" y1="317.30" x2="300.94" y2="320.80" stroke="#111" stroke-width="1.30" stroke-linecap="butt"/>
<line x1="311.62" y1="317.30" x2="311.62" y2="320.80" stroke="#111" stroke-width="1.30" stroke-linecap="butt"/>
<line x1="322.30" y1="317.30" x2="322.30" y2="320.80" stroke="#111" stroke-width="1.30" stroke-linecap="butt"/>
<line x1="332.98" y1="317.30" x2="332.98" y2="320.80" stroke="#111" stroke-width="1.30" stroke-linecap="butt"/>
<line x1="343.66" y1="317.30" x2="343.66" y2="320.80" stroke="#111" stroke-width="1.30" stroke-linecap="butt"/>
<line x1="354.34" y1="317.30" x2="354.34" y2="320.80" stroke="#111" stroke-width="1.30" stroke-linecap="butt"/>
<text x="268.90" y="329.34" font-size="6.50" text-anchor="middle" fill="#222" font-weight="normal" stroke="#222" stroke-width="0.12">0</text>
<text x="290.26" y="329.34" font-size="6.50" text-anchor="middle" fill="#222" font-weight="normal" stroke="#222" stroke-width="0.12">7</text>
<text x="311.62" y="329.34" font-size="6.50" text-anchor="middle" fill="#222" font-weight="normal" stroke="#222" stroke-width="0.12">14</text>
<text x="332.98" y="329.34" font-size="6.50" text-anchor="middle" fill="#222" font-weight="normal" stroke="#222" stroke-width="0.12">21</text>
<text x="354.34" y="329.34" font-size="6.50" text-anchor="middle" fill="#222" font-weight="normal" stroke="#222" stroke-width="0.12">28</text>
<text x="280.00" y="341.41" font-size="9.60" text-anchor="start" fill="#222" font-weight="normal" textLength="63.00" lengthAdjust="spacingAndGlyphs" stroke="#222" stroke-width="0.22">Days of co-culture</text>
<text x="272.70" y="246.40" font-size="8.40" text-anchor="start" fill="#222" font-weight="normal" textLength="77.00" lengthAdjust="spacingAndGlyphs" stroke="#222" stroke-width="0.22">EM: CD45RO+CD62L-</text>
<polyline points="268.90,308.00 279.58,309.00 290.26,299.00 300.94,300.00 311.62,293.00 322.30,295.00" fill="none" stroke="#d18b3c" stroke-width="1.34" stroke-linejoin="round" stroke-dasharray="1.4,1"/>
<circle cx="268.90" cy="308.00" r="1.15" fill="#d18b3c"/>
<circle cx="279.58" cy="309.00" r="1.15" fill="#d18b3c"/>
<circle cx="290.26" cy="299.00" r="1.15" fill="#d18b3c"/>
<circle cx="300.94" cy="300.00" r="1.15" fill="#d18b3c"/>
<circle cx="311.62" cy="293.00" r="1.15" fill="#d18b3c"/>
<circle cx="322.30" cy="295.00" r="1.15" fill="#d18b3c"/>
<polyline points="268.90,309.00 279.58,313.00 290.26,301.00 300.94,305.60 311.62,293.00 322.30,283.50 332.98,266.00" fill="none" stroke="#6cae4a" stroke-width="1.59" stroke-linejoin="round"/>
<circle cx="268.90" cy="309.00" r="1.15" fill="#6cae4a"/>
<circle cx="279.58" cy="313.00" r="1.15" fill="#6cae4a"/>
<circle cx="290.26" cy="301.00" r="1.15" fill="#6cae4a"/>
<circle cx="300.94" cy="305.60" r="1.15" fill="#6cae4a"/>
<circle cx="311.62" cy="293.00" r="1.15" fill="#6cae4a"/>
<circle cx="322.30" cy="283.50" r="1.15" fill="#6cae4a"/>
<circle cx="332.98" cy="266.00" r="1.15" fill="#6cae4a"/>
<polyline points="268.90,307.00 279.58,302.00 290.26,299.70 300.94,292.00 311.62,293.00 322.30,289.00 332.98,271.40 343.66,282.20" fill="none" stroke="#a6163a" stroke-width="1.59" stroke-linejoin="round"/>
<circle cx="268.90" cy="307.00" r="1.15" fill="#a6163a"/>
<circle cx="279.58" cy="302.00" r="1.15" fill="#a6163a"/>
<circle cx="290.26" cy="299.70" r="1.15" fill="#a6163a"/>
<circle cx="300.94" cy="292.00" r="1.15" fill="#a6163a"/>
<circle cx="311.62" cy="293.00" r="1.15" fill="#a6163a"/>
<circle cx="322.30" cy="289.00" r="1.15" fill="#a6163a"/>
<circle cx="332.98" cy="271.40" r="1.15" fill="#a6163a"/>
<circle cx="343.66" cy="282.20" r="1.15" fill="#a6163a"/>
<polyline points="268.90,307.00 279.58,304.00 290.26,303.70 300.94,302.00 311.62,299.70 322.30,299.70 332.98,295.60 343.66,294.30 354.34,304.50" fill="none" stroke="#2b4a82" stroke-width="1.59" stroke-linejoin="round"/>
<circle cx="268.90" cy="307.00" r="1.15" fill="#2b4a82"/>
<circle cx="279.58" cy="304.00" r="1.15" fill="#2b4a82"/>
<circle cx="290.26" cy="303.70" r="1.15" fill="#2b4a82"/>
<circle cx="300.94" cy="302.00" r="1.15" fill="#2b4a82"/>
<circle cx="311.62" cy="299.70" r="1.15" fill="#2b4a82"/>
<circle cx="322.30" cy="299.70" r="1.15" fill="#2b4a82"/>
<circle cx="332.98" cy="295.60" r="1.15" fill="#2b4a82"/>
<circle cx="343.66" cy="294.30" r="1.15" fill="#2b4a82"/>
<circle cx="354.34" cy="304.50" r="1.15" fill="#2b4a82"/>
<polyline points="268.90,306.00 279.58,303.00 290.26,298.30 300.94,294.00 311.62,291.60 322.30,301.00 332.98,293.00 343.66,296.50 354.34,297.00" fill="none" stroke="#4a2a66" stroke-width="1.83" stroke-linejoin="round"/>
<circle cx="268.90" cy="306.00" r="1.15" fill="#4a2a66"/>
<circle cx="279.58" cy="303.00" r="1.15" fill="#4a2a66"/>
<circle cx="290.26" cy="298.30" r="1.15" fill="#4a2a66"/>
<circle cx="300.94" cy="294.00" r="1.15" fill="#4a2a66"/>
<circle cx="311.62" cy="291.60" r="1.15" fill="#4a2a66"/>
<circle cx="322.30" cy="301.00" r="1.15" fill="#4a2a66"/>
<circle cx="332.98" cy="293.00" r="1.15" fill="#4a2a66"/>
<circle cx="343.66" cy="296.50" r="1.15" fill="#4a2a66"/>
<circle cx="354.34" cy="297.00" r="1.15" fill="#4a2a66"/>
<polyline points="268.90,308.00 279.58,305.00 290.26,300.00 300.94,297.00 311.62,293.00 322.30,298.00 332.98,293.00 343.66,276.00 354.34,291.60" fill="none" stroke="#2c2858" stroke-width="1.46" stroke-linejoin="round" stroke-dasharray="1.5,1"/>
<circle cx="268.90" cy="308.00" r="1.15" fill="#2c2858"/>
<circle cx="279.58" cy="305.00" r="1.15" fill="#2c2858"/>
<circle cx="290.26" cy="300.00" r="1.15" fill="#2c2858"/>
<circle cx="300.94" cy="297.00" r="1.15" fill="#2c2858"/>
<circle cx="311.62" cy="293.00" r="1.15" fill="#2c2858"/>
<circle cx="322.30" cy="298.00" r="1.15" fill="#2c2858"/>
<circle cx="332.98" cy="293.00" r="1.15" fill="#2c2858"/>
<circle cx="343.66" cy="276.00" r="1.15" fill="#2c2858"/>
<circle cx="354.34" cy="291.60" r="1.15" fill="#2c2858"/>
<line x1="268.90" y1="306.00" x2="268.90" y2="298.30" stroke="#4a2a66" stroke-width="0.90" stroke-linecap="butt"/>
<line x1="267.70" y1="298.30" x2="270.10" y2="298.30" stroke="#4a2a66" stroke-width="0.90" stroke-linecap="butt"/>
<line x1="268.90" y1="308.00" x2="268.90" y2="301.00" stroke="#4a2a66" stroke-width="0.90" stroke-linecap="butt"/>
<line x1="267.70" y1="301.00" x2="270.10" y2="301.00" stroke="#4a2a66" stroke-width="0.90" stroke-linecap="butt"/>
<line x1="279.58" y1="303.00" x2="279.58" y2="290.30" stroke="#4a2a66" stroke-width="0.90" stroke-linecap="butt"/>
<line x1="278.38" y1="290.30" x2="280.78" y2="290.30" stroke="#4a2a66" stroke-width="0.90" stroke-linecap="butt"/>
<line x1="290.26" y1="298.30" x2="290.26" y2="283.50" stroke="#4a2a66" stroke-width="0.90" stroke-linecap="butt"/>
<line x1="289.06" y1="283.50" x2="291.46" y2="283.50" stroke="#4a2a66" stroke-width="0.90" stroke-linecap="butt"/>
<line x1="290.26" y1="299.00" x2="290.26" y2="275.00" stroke="#d18b3c" stroke-width="0.90" stroke-linecap="butt"/>
<line x1="289.06" y1="275.00" x2="291.46" y2="275.00" stroke="#d18b3c" stroke-width="0.90" stroke-linecap="butt"/>
<line x1="300.94" y1="294.00" x2="300.94" y2="282.20" stroke="#4a2a66" stroke-width="0.90" stroke-linecap="butt"/>
<line x1="299.74" y1="282.20" x2="302.14" y2="282.20" stroke="#4a2a66" stroke-width="0.90" stroke-linecap="butt"/>
<line x1="300.94" y1="300.00" x2="300.94" y2="286.00" stroke="#4a2a66" stroke-width="0.90" stroke-linecap="butt"/>
<line x1="299.74" y1="286.00" x2="302.14" y2="286.00" stroke="#4a2a66" stroke-width="0.90" stroke-linecap="butt"/>
<line x1="311.62" y1="291.60" x2="311.62" y2="276.80" stroke="#4a2a66" stroke-width="0.90" stroke-linecap="butt"/>
<line x1="310.42" y1="276.80" x2="312.82" y2="276.80" stroke="#4a2a66" stroke-width="0.90" stroke-linecap="butt"/>
<line x1="311.62" y1="293.00" x2="311.62" y2="283.50" stroke="#4a2a66" stroke-width="0.90" stroke-linecap="butt"/>
<line x1="310.42" y1="283.50" x2="312.82" y2="283.50" stroke="#4a2a66" stroke-width="0.90" stroke-linecap="butt"/>
<line x1="322.30" y1="298.00" x2="322.30" y2="286.00" stroke="#4a2a66" stroke-width="0.90" stroke-linecap="butt"/>
<line x1="321.10" y1="286.00" x2="323.50" y2="286.00" stroke="#4a2a66" stroke-width="0.90" stroke-linecap="butt"/>
<line x1="332.98" y1="293.00" x2="332.98" y2="278.00" stroke="#4a2a66" stroke-width="0.90" stroke-linecap="butt"/>
<line x1="331.78" y1="278.00" x2="334.18" y2="278.00" stroke="#4a2a66" stroke-width="0.90" stroke-linecap="butt"/>
<line x1="343.66" y1="276.00" x2="343.66" y2="268.70" stroke="#4a2a66" stroke-width="0.90" stroke-linecap="butt"/>
<line x1="342.46" y1="268.70" x2="344.86" y2="268.70" stroke="#4a2a66" stroke-width="0.90" stroke-linecap="butt"/>
<line x1="354.34" y1="291.60" x2="354.34" y2="278.00" stroke="#4a2a66" stroke-width="0.90" stroke-linecap="butt"/>
<line x1="353.14" y1="278.00" x2="355.54" y2="278.00" stroke="#4a2a66" stroke-width="0.90" stroke-linecap="butt"/>
<line x1="354.34" y1="297.00" x2="354.34" y2="282.00" stroke="#4a2a66" stroke-width="0.90" stroke-linecap="butt"/>
<line x1="353.14" y1="282.00" x2="355.54" y2="282.00" stroke="#4a2a66" stroke-width="0.90" stroke-linecap="butt"/>
<line x1="322.30" y1="283.50" x2="322.30" y2="266.00" stroke="#6cae4a" stroke-width="0.90" stroke-linecap="butt"/>
<line x1="321.10" y1="266.00" x2="323.50" y2="266.00" stroke="#6cae4a" stroke-width="0.90" stroke-linecap="butt"/>
<text x="0" y="0" font-size="9.0" fill="#222" stroke="#222" stroke-width="0.2" text-anchor="middle" transform="translate(241.2 284.00) rotate(-90)" textLength="53" lengthAdjust="spacingAndGlyphs">% positive cells</text>
<line x1="368.90" y1="250.50" x2="368.90" y2="317.50" stroke="#111" stroke-width="1.50" stroke-linecap="butt"/>
<line x1="365.90" y1="317.00" x2="466.40" y2="317.00" stroke="#111" stroke-width="1.50" stroke-linecap="butt"/>
<line x1="365.10" y1="317.00" x2="368.90" y2="317.00" stroke="#111" stroke-width="1.30" stroke-linecap="butt"/>
<line x1="365.10" y1="301.07" x2="368.90" y2="301.07" stroke="#111" stroke-width="1.30" stroke-linecap="butt"/>
<line x1="365.10" y1="285.15" x2="368.90" y2="285.15" stroke="#111" stroke-width="1.30" stroke-linecap="butt"/>
<line x1="365.10" y1="269.23" x2="368.90" y2="269.23" stroke="#111" stroke-width="1.30" stroke-linecap="butt"/>
<line x1="365.10" y1="253.30" x2="368.90" y2="253.30" stroke="#111" stroke-width="1.30" stroke-linecap="butt"/>
<line x1="374.30" y1="317.00" x2="374.30" y2="320.50" stroke="#111" stroke-width="1.30" stroke-linecap="butt"/>
<line x1="384.98" y1="317.00" x2="384.98" y2="320.50" stroke="#111" stroke-width="1.30" stroke-linecap="butt"/>
<line x1="395.66" y1="317.00" x2="395.66" y2="320.50" stroke="#111" stroke-width="1.30" stroke-linecap="butt"/>
<line x1="406.34" y1="317.00" x2="406.34" y2="320.50" stroke="#111" stroke-width="1.30" stroke-linecap="butt"/>
<line x1="417.02" y1="317.00" x2="417.02" y2="320.50" stroke="#111" stroke-width="1.30" stroke-linecap="butt"/>
<line x1="427.70" y1="317.00" x2="427.70" y2="320.50" stroke="#111" stroke-width="1.30" stroke-linecap="butt"/>
<line x1="438.38" y1="317.00" x2="438.38" y2="320.50" stroke="#111" stroke-width="1.30" stroke-linecap="butt"/>
<line x1="449.06" y1="317.00" x2="449.06" y2="320.50" stroke="#111" stroke-width="1.30" stroke-linecap="butt"/>
<line x1="459.74" y1="317.00" x2="459.74" y2="320.50" stroke="#111" stroke-width="1.30" stroke-linecap="butt"/>
<text x="374.30" y="329.04" font-size="6.50" text-anchor="middle" fill="#222" font-weight="normal" stroke="#222" stroke-width="0.12">0</text>
<text x="395.66" y="329.04" font-size="6.50" text-anchor="middle" fill="#222" font-weight="normal" stroke="#222" stroke-width="0.12">7</text>
<text x="417.02" y="329.04" font-size="6.50" text-anchor="middle" fill="#222" font-weight="normal" stroke="#222" stroke-width="0.12">14</text>
<text x="438.38" y="329.04" font-size="6.50" text-anchor="middle" fill="#222" font-weight="normal" stroke="#222" stroke-width="0.12">21</text>
<text x="459.74" y="329.04" font-size="6.50" text-anchor="middle" fill="#222" font-weight="normal" stroke="#222" stroke-width="0.12">28</text>
<text x="385.40" y="341.11" font-size="9.60" text-anchor="start" fill="#222" font-weight="normal" textLength="63.00" lengthAdjust="spacingAndGlyphs" stroke="#222" stroke-width="0.22">Days of co-culture</text>
<text x="371.30" y="246.40" font-size="8.40" text-anchor="start" fill="#222" font-weight="normal" textLength="92.00" lengthAdjust="spacingAndGlyphs" stroke="#222" stroke-width="0.22">Effector: CD45RO-CD62L-</text>
<polyline points="374.30,314.50 384.98,315.00 395.66,313.50 406.34,314.50 417.02,314.50 427.70,314.00 438.38,315.00" fill="none" stroke="#d18b3c" stroke-width="1.34" stroke-linejoin="round" stroke-dasharray="1.4,1"/>
<circle cx="374.30" cy="314.50" r="1.15" fill="#d18b3c"/>
<circle cx="384.98" cy="315.00" r="1.15" fill="#d18b3c"/>
<circle cx="395.66" cy="313.50" r="1.15" fill="#d18b3c"/>
<circle cx="406.34" cy="314.50" r="1.15" fill="#d18b3c"/>
<circle cx="417.02" cy="314.50" r="1.15" fill="#d18b3c"/>
<circle cx="427.70" cy="314.00" r="1.15" fill="#d18b3c"/>
<circle cx="438.38" cy="315.00" r="1.15" fill="#d18b3c"/>
<polyline points="374.30,316.00 384.98,316.50 395.66,316.00 406.34,316.00 417.02,316.00 427.70,316.00 438.38,316.50" fill="none" stroke="#6cae4a" stroke-width="1.59" stroke-linejoin="round"/>
<circle cx="374.30" cy="316.00" r="1.15" fill="#6cae4a"/>
<circle cx="384.98" cy="316.50" r="1.15" fill="#6cae4a"/>
<circle cx="395.66" cy="316.00" r="1.15" fill="#6cae4a"/>
<circle cx="406.34" cy="316.00" r="1.15" fill="#6cae4a"/>
<circle cx="417.02" cy="316.00" r="1.15" fill="#6cae4a"/>
<circle cx="427.70" cy="316.00" r="1.15" fill="#6cae4a"/>
<circle cx="438.38" cy="316.50" r="1.15" fill="#6cae4a"/>
<polyline points="374.30,314.50 384.98,315.00 395.66,314.50 406.34,314.50 417.02,315.00 427.70,315.00 438.38,316.50 449.06,300.50" fill="none" stroke="#a6163a" stroke-width="1.59" stroke-linejoin="round"/>
<circle cx="374.30" cy="314.50" r="1.15" fill="#a6163a"/>
<circle cx="384.98" cy="315.00" r="1.15" fill="#a6163a"/>
<circle cx="395.66" cy="314.50" r="1.15" fill="#a6163a"/>
<circle cx="406.34" cy="314.50" r="1.15" fill="#a6163a"/>
<circle cx="417.02" cy="315.00" r="1.15" fill="#a6163a"/>
<circle cx="427.70" cy="315.00" r="1.15" fill="#a6163a"/>
<circle cx="438.38" cy="316.50" r="1.15" fill="#a6163a"/>
<circle cx="449.06" cy="300.50" r="1.15" fill="#a6163a"/>
<polyline points="374.30,314.00 384.98,314.50 395.66,313.50 406.34,314.50 417.02,314.50 427.70,314.00 438.38,314.50 449.06,313.50 459.74,314.50" fill="none" stroke="#2b4a82" stroke-width="1.59" stroke-linejoin="round"/>
<circle cx="374.30" cy="314.00" r="1.15" fill="#2b4a82"/>
<circle cx="384.98" cy="314.50" r="1.15" fill="#2b4a82"/>
<circle cx="395.66" cy="313.50" r="1.15" fill="#2b4a82"/>
<circle cx="406.34" cy="314.50" r="1.15" fill="#2b4a82"/>
<circle cx="417.02" cy="314.50" r="1.15" fill="#2b4a82"/>
<circle cx="427.70" cy="314.00" r="1.15" fill="#2b4a82"/>
<circle cx="438.38" cy="314.50" r="1.15" fill="#2b4a82"/>
<circle cx="449.06" cy="313.50" r="1.15" fill="#2b4a82"/>
<circle cx="459.74" cy="314.50" r="1.15" fill="#2b4a82"/>
<polyline points="374.30,314.00 384.98,314.50 395.66,309.50 406.34,313.50 417.02,313.50 427.70,312.50 438.38,314.50 449.06,313.00 459.74,314.00" fill="none" stroke="#4a2a66" stroke-width="1.83" stroke-linejoin="round"/>
<circle cx="374.30" cy="314.00" r="1.15" fill="#4a2a66"/>
<circle cx="384.98" cy="314.50" r="1.15" fill="#4a2a66"/>
<circle cx="395.66" cy="309.50" r="1.15" fill="#4a2a66"/>
<circle cx="406.34" cy="313.50" r="1.15" fill="#4a2a66"/>
<circle cx="417.02" cy="313.50" r="1.15" fill="#4a2a66"/>
<circle cx="427.70" cy="312.50" r="1.15" fill="#4a2a66"/>
<circle cx="438.38" cy="314.50" r="1.15" fill="#4a2a66"/>
<circle cx="449.06" cy="313.00" r="1.15" fill="#4a2a66"/>
<circle cx="459.74" cy="314.00" r="1.15" fill="#4a2a66"/>
<polyline points="374.30,314.50 384.98,315.00 395.66,312.50 406.34,313.50 417.02,314.00 427.70,313.50 438.38,314.50 449.06,314.00 459.74,314.50" fill="none" stroke="#2c2858" stroke-width="1.46" stroke-linejoin="round" stroke-dasharray="1.5,1"/>
<circle cx="374.30" cy="314.50" r="1.15" fill="#2c2858"/>
<circle cx="384.98" cy="315.00" r="1.15" fill="#2c2858"/>
<circle cx="395.66" cy="312.50" r="1.15" fill="#2c2858"/>
<circle cx="406.34" cy="313.50" r="1.15" fill="#2c2858"/>
<circle cx="417.02" cy="314.00" r="1.15" fill="#2c2858"/>
<circle cx="427.70" cy="313.50" r="1.15" fill="#2c2858"/>
<circle cx="438.38" cy="314.50" r="1.15" fill="#2c2858"/>
<circle cx="449.06" cy="314.00" r="1.15" fill="#2c2858"/>
<circle cx="459.74" cy="314.50" r="1.15" fill="#2c2858"/>
<line x1="395.66" y1="309.50" x2="395.66" y2="304.00" stroke="#4a2a66" stroke-width="0.90" stroke-linecap="butt"/>
<line x1="394.46" y1="304.00" x2="396.86" y2="304.00" stroke="#4a2a66" stroke-width="0.90" stroke-linecap="butt"/>
<line x1="384.98" y1="314.50" x2="384.98" y2="310.00" stroke="#4a2a66" stroke-width="0.90" stroke-linecap="butt"/>
<line x1="383.78" y1="310.00" x2="386.18" y2="310.00" stroke="#4a2a66" stroke-width="0.90" stroke-linecap="butt"/>
<line x1="427.70" y1="312.50" x2="427.70" y2="308.00" stroke="#4a2a66" stroke-width="0.90" stroke-linecap="butt"/>
<line x1="426.50" y1="308.00" x2="428.90" y2="308.00" stroke="#4a2a66" stroke-width="0.90" stroke-linecap="butt"/>
<line x1="449.06" y1="313.00" x2="449.06" y2="308.50" stroke="#4a2a66" stroke-width="0.90" stroke-linecap="butt"/>
<line x1="447.86" y1="308.50" x2="450.26" y2="308.50" stroke="#4a2a66" stroke-width="0.90" stroke-linecap="butt"/>
<line x1="459.74" y1="314.00" x2="459.74" y2="309.50" stroke="#4a2a66" stroke-width="0.90" stroke-linecap="butt"/>
<line x1="458.54" y1="309.50" x2="460.94" y2="309.50" stroke="#4a2a66" stroke-width="0.90" stroke-linecap="butt"/>
<line x1="374.30" y1="314.00" x2="374.30" y2="311.00" stroke="#4a2a66" stroke-width="0.90" stroke-linecap="butt"/>
<line x1="373.10" y1="311.00" x2="375.50" y2="311.00" stroke="#4a2a66" stroke-width="0.90" stroke-linecap="butt"/>
<line x1="476.60" y1="217.00" x2="484.50" y2="217.00" stroke="#3b3f4a" stroke-width="1.50" stroke-linecap="butt"/>
<circle cx="480.50" cy="217.00" r="1.30" fill="#2f333b"/>
<text x="487.70" y="219.04" font-size="5.90" text-anchor="start" fill="#222" font-weight="normal" textLength="15.00" lengthAdjust="spacingAndGlyphs" stroke="#222" stroke-width="0.14">No Ck</text>
<line x1="476.60" y1="224.42" x2="484.50" y2="224.42" stroke="#371f4c" stroke-width="1.50" stroke-linecap="butt"/>
<circle cx="480.50" cy="224.42" r="1.30" fill="#2c193d"/>
<text x="487.70" y="226.46" font-size="5.90" text-anchor="start" fill="#222" font-weight="normal" textLength="7.50" lengthAdjust="spacingAndGlyphs" stroke="#222" stroke-width="0.14">IL2</text>
<line x1="476.60" y1="231.84" x2="484.50" y2="231.84" stroke="#7c102b" stroke-width="1.50" stroke-linecap="butt"/>
<circle cx="480.50" cy="231.84" r="1.30" fill="#630d22"/>
<text x="487.70" y="233.88" font-size="5.90" text-anchor="start" fill="#222" font-weight="normal" textLength="15.50" lengthAdjust="spacingAndGlyphs" stroke="#222" stroke-width="0.14">TPO 5</text>
<line x1="476.60" y1="239.26" x2="484.50" y2="239.26" stroke="#203761" stroke-width="1.50" stroke-linecap="butt"/>
<circle cx="480.50" cy="239.26" r="1.30" fill="#192c4e"/>
<text x="487.70" y="241.30" font-size="5.90" text-anchor="start" fill="#222" font-weight="normal" textLength="19.00" lengthAdjust="spacingAndGlyphs" stroke="#222" stroke-width="0.14">TPO 50</text>
<line x1="476.60" y1="246.68" x2="484.50" y2="246.68" stroke="#518237" stroke-width="1.50" stroke-linecap="butt"/>
<circle cx="480.50" cy="246.68" r="1.30" fill="#40682c"/>
<text x="487.70" y="248.72" font-size="5.90" text-anchor="start" fill="#222" font-weight="normal" textLength="7.50" lengthAdjust="spacingAndGlyphs" stroke="#222" stroke-width="0.14">EP</text>
<line x1="476.60" y1="254.10" x2="484.50" y2="254.10" stroke="#9c682d" stroke-width="1.50" stroke-linecap="butt" stroke-dasharray="1.5,1"/>
<circle cx="480.50" cy="254.10" r="1.30" fill="#7d5324"/>
<text x="487.70" y="256.14" font-size="5.90" text-anchor="start" fill="#222" font-weight="normal" textLength="17.50" lengthAdjust="spacingAndGlyphs" stroke="#222" stroke-width="0.14">aCD28</text>
<line x1="476.60" y1="261.52" x2="484.50" y2="261.52" stroke="#211e42" stroke-width="1.50" stroke-linecap="butt" stroke-dasharray="1.5,1"/>
<circle cx="480.50" cy="261.52" r="1.30" fill="#1a1834"/>
<text x="487.70" y="263.56" font-size="5.90" text-anchor="start" fill="#222" font-weight="normal" textLength="27.50" lengthAdjust="spacingAndGlyphs" stroke="#222" stroke-width="0.14">IL2+aCD28</text>
</svg>
</body></html>
